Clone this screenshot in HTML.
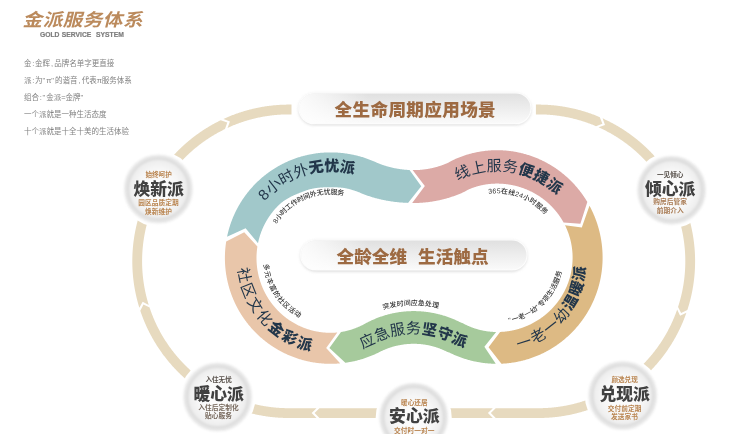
<!DOCTYPE html>
<html lang="zh"><head><meta charset="utf-8"><title>金派服务体系 GOLD SERVICE SYSTEM</title>
<style>
html,body{margin:0;padding:0;background:#fff}
body{width:740px;height:434px;overflow:hidden;position:relative;font-family:"Liberation Sans",sans-serif}
svg{position:absolute;left:0;top:0;display:block;filter:blur(.32px)}
svg text{font-family:"Liberation Sans","Noto Sans CJK SC",sans-serif}
.en{position:absolute;left:39.5px;top:30.3px;font:bold 7.3px/9px "Liberation Sans",sans-serif;letter-spacing:0;word-spacing:.5px;color:#7d7d7d;white-space:pre;margin:0;transform-origin:0 0;transform:scaleX(.925);-webkit-text-stroke:.22px #7d7d7d}
.sr{position:absolute;left:0;top:0;width:1px;height:1px;overflow:hidden;clip:rect(0 0 0 0);clip-path:inset(50%);white-space:nowrap;font-size:1px;color:transparent}
</style></head><body>
<svg width="740" height="434" viewBox="0 0 740 434" role="img" aria-label="金派服务体系">
<defs>
<linearGradient id="pg" x1="0" x2="1" y1="0" y2="0"><stop offset="0" stop-color="#fff" stop-opacity=".85"/><stop offset=".1" stop-color="#fff" stop-opacity=".6"/><stop offset=".3" stop-color="#fff" stop-opacity="0"/></linearGradient>
<linearGradient id="pv" x1="0" x2="0" y1="0" y2="1"><stop offset="0" stop-color="#e0e0e0"/><stop offset=".45" stop-color="#ececec"/><stop offset="1" stop-color="#fafafa"/></linearGradient>
<radialGradient id="ng" cx=".5" cy=".5" r=".5"><stop offset="0" stop-color="#fdfdfd"/><stop offset=".6" stop-color="#f8f8f8"/><stop offset="1" stop-color="#ececec"/></radialGradient>
<linearGradient id="tg" gradientUnits="userSpaceOnUse" x1="0" y1="9" x2="0" y2="28"><stop offset="0" stop-color="#bb8a5c"/><stop offset="1" stop-color="#9a6037"/></linearGradient>
<filter id="sh" x="-5%" y="-30%" width="110%" height="170%"><feGaussianBlur stdDeviation="1.6"/></filter>
<filter id="nb" x="-10%" y="-10%" width="120%" height="120%"><feGaussianBlur stdDeviation=".8"/></filter>
<filter id="nb2" x="-15%" y="-15%" width="130%" height="130%"><feGaussianBlur stdDeviation="1.1"/></filter>
</defs>
<path fill="#e7dabf" d="M151.94 185.35L152.24 184.81L152.54 184.26L152.85 183.72L153.16 183.19L153.47 182.65L153.78 182.11L154.1 181.58L154.41 181.04L154.73 180.51L155.05 179.98L155.38 179.45L155.7 178.92L156.03 178.4L156.36 177.87L156.69 177.34L157.02 176.82L157.36 176.3L157.7 175.78L158.03 175.26L158.38 174.74L158.72 174.22L159.07 173.71L159.41 173.2L159.76 172.68L160.12 172.17L160.47 171.66L160.83 171.15L161.18 170.65L161.54 170.14L161.91 169.64L162.27 169.13L162.64 168.63L163 168.13L163.37 167.64L163.75 167.14L164.12 166.64L164.5 166.15L164.87 165.66L165.25 165.17L165.63 164.68L166.02 164.19L166.4 163.7L166.79 163.22L167.18 162.74L167.57 162.25L167.97 161.77L168.36 161.3L168.76 160.82L169.16 160.34L169.56 159.87L169.96 159.4L170.36 158.93L170.77 158.46L171.18 157.99L171.59 157.52L172 157.06L172.41 156.6L172.83 156.14L173.25 155.68L173.67 155.22L174.09 154.76L174.51 154.31L174.94 153.86L175.36 153.41L175.79 152.96L176.22 152.51L176.65 152.06L177.08 151.62L177.52 151.18L177.96 150.74L178.4 150.3L178.84 149.86L179.28 149.42L179.72 148.99L180.17 148.56L180.62 148.13L181.06 147.7L181.52 147.27L181.97 146.85L182.42 146.43L182.88 146.01L183.33 145.59L183.79 145.17L184.25 144.75L184.72 144.34L185.18 143.93L185.65 143.52L186.11 143.11L186.58 142.7L187.05 142.3L187.53 141.89L188 141.49L188.47 141.09L188.95 140.7L189.43 140.3L189.91 139.91L190.39 139.52L190.87 139.13L191.36 138.74L191.84 138.35L192.33 137.97L192.82 137.59L193.31 137.21L193.8 136.83L194.3 136.45L194.79 136.08L195.29 135.71L195.79 135.34L196.29 134.97L196.79 134.6L197.29 134.24L197.8 133.88L198.3 133.52L198.81 133.16L199.32 132.8L199.82 132.45L200.34 132.1L200.85 131.75L201.36 131.4L201.88 131.05L202.39 130.71L202.91 130.37L203.43 130.03L203.95 129.69L204.47 129.35L205 129.02L205.52 128.69L206.05 128.36L206.57 128.03L207.1 127.71L207.63 127.38L208.16 127.06L208.7 126.74L209.23 126.42L209.76 126.11L210.3 125.8L210.84 125.49L211.38 125.18L211.91 124.87L212.46 124.57L213 124.27L213.54 123.97L214.09 123.67L214.63 123.37L215.18 123.08L215.73 122.79L216.28 122.5L216.83 122.21L217.38 121.93L217.93 121.64L218.48 121.36L219.04 121.09L219.59 120.81L220.15 120.54L220.71 120.26L227.29 122.61L224.98 129.08L224.46 129.34L223.93 129.6L223.41 129.85L222.89 130.12L222.37 130.38L221.86 130.64L221.34 130.91L220.82 131.18L220.31 131.45L219.79 131.72L219.28 132L218.77 132.28L218.26 132.55L217.75 132.84L217.24 133.12L216.74 133.4L216.23 133.69L215.73 133.98L215.22 134.27L214.72 134.56L214.22 134.86L213.72 135.16L213.22 135.46L212.72 135.76L212.22 136.06L211.73 136.36L211.23 136.67L210.74 136.98L210.25 137.29L209.76 137.6L209.27 137.92L208.78 138.24L208.3 138.55L207.81 138.88L207.33 139.2L206.84 139.52L206.36 139.85L205.88 140.18L205.4 140.51L204.92 140.84L204.45 141.17L203.97 141.51L203.5 141.85L203.03 142.19L202.56 142.53L202.09 142.87L201.62 143.22L201.15 143.56L200.69 143.91L200.22 144.26L199.76 144.61L199.3 144.97L198.84 145.33L198.38 145.68L197.92 146.04L197.47 146.4L197.01 146.77L196.56 147.13L196.11 147.5L195.66 147.87L195.21 148.24L194.76 148.61L194.32 148.99L193.87 149.36L193.43 149.74L192.99 150.12L192.55 150.5L192.11 150.88L191.67 151.27L191.24 151.65L190.81 152.04L190.37 152.43L189.94 152.82L189.51 153.22L189.09 153.61L188.66 154.01L188.24 154.41L187.81 154.81L187.39 155.21L186.97 155.61L186.56 156.01L186.14 156.42L185.73 156.83L185.31 157.24L184.9 157.65L184.49 158.06L184.08 158.48L183.68 158.9L183.27 159.31L182.87 159.73L182.47 160.15L182.07 160.58L181.67 161L181.27 161.43L180.88 161.85L180.49 162.28L180.1 162.71L179.71 163.15L179.32 163.58L178.93 164.01L178.55 164.45L178.16 164.89L177.78 165.33L177.4 165.77L177.03 166.21L176.65 166.66L176.28 167.1L175.91 167.55L175.53 168L175.17 168.45L174.8 168.9L174.43 169.35L174.07 169.81L173.71 170.26L173.35 170.72L172.99 171.18L172.64 171.64L172.28 172.1L171.93 172.56L171.58 173.03L171.23 173.49L170.88 173.96L170.54 174.43L170.2 174.9L169.85 175.37L169.52 175.84L169.18 176.32L168.84 176.79L168.51 177.27L168.18 177.75L167.85 178.23L167.52 178.71L167.19 179.19L166.87 179.67L166.55 180.15L166.23 180.64L165.91 181.13L165.59 181.62L165.28 182.1L164.96 182.6L164.65 183.09L164.34 183.58L164.04 184.07L163.73 184.57L163.43 185.07L163.13 185.56L162.83 186.06L162.53 186.56L162.24 187.07L161.94 187.57L161.65 188.07L161.36 188.58L161.08 189.08L160.79 189.59L160.51 190.1ZM223.42 118.99L223.98 118.73L224.55 118.47L225.11 118.21L225.68 117.96L226.25 117.71L226.82 117.46L227.39 117.22L227.96 116.98L228.54 116.73L229.11 116.5L229.69 116.26L230.26 116.03L230.84 115.79L231.42 115.56L232 115.34L232.58 115.11L233.16 114.89L233.74 114.67L234.32 114.45L234.9 114.23L235.49 114.02L236.07 113.81L236.66 113.6L237.24 113.39L237.83 113.19L238.42 112.99L239.01 112.79L239.6 112.59L240.19 112.4L240.78 112.2L241.37 112.01L241.96 111.83L242.56 111.64L243.15 111.46L243.75 111.28L244.34 111.1L244.94 110.92L245.53 110.75L246.13 110.58L246.73 110.41L247.33 110.24L247.93 110.08L248.53 109.92L249.13 109.76L249.73 109.6L250.33 109.45L250.94 109.29L251.54 109.14L252.14 109L252.75 108.85L253.35 108.71L253.96 108.57L254.57 108.43L255.17 108.29L255.78 108.16L256.39 108.03L257 107.9L257.6 107.78L258.21 107.65L258.82 107.53L259.43 107.41L260.04 107.3L260.66 107.18L261.27 107.07L261.88 106.96L262.49 106.86L263.11 106.75L263.72 106.65L264.33 106.55L264.95 106.46L265.56 106.36L266.18 106.27L266.79 106.18L267.41 106.09L268.02 106.01L268.64 105.93L269.26 105.85L269.87 105.77L270.49 105.7L271.11 105.63L271.73 105.56L272.34 105.49L272.96 105.42L273.58 105.36L274.2 105.3L274.82 105.24L275.44 105.19L276.06 105.14L276.68 105.09L277.3 105.04L277.92 104.99L278.54 104.95L279.16 104.91L279.78 104.87L280.4 104.84L281.02 104.8L281.64 104.77L282.26 104.75L282.88 104.72L283.5 104.7L284.13 104.68L284.75 104.66L285.37 104.64L285.99 104.63L286.61 104.62L287.23 104.61L287.85 104.6L288.47 104.6L289.09 104.6L289.7 104.6L290.3 104.6L290.9 104.6L291.5 104.6L291.5 114.4L290.9 114.4L290.3 114.4L289.7 114.4L289.1 114.4L288.51 114.4L287.93 114.4L287.34 114.41L286.76 114.42L286.18 114.43L285.6 114.44L285.01 114.45L284.43 114.47L283.85 114.49L283.27 114.51L282.68 114.54L282.1 114.56L281.52 114.59L280.94 114.62L280.35 114.65L279.77 114.69L279.19 114.73L278.61 114.77L278.03 114.81L277.45 114.86L276.87 114.9L276.29 114.95L275.71 115L275.12 115.06L274.54 115.11L273.96 115.17L273.39 115.23L272.81 115.3L272.23 115.36L271.65 115.43L271.07 115.5L270.49 115.57L269.91 115.65L269.33 115.72L268.76 115.8L268.18 115.88L267.6 115.97L267.03 116.05L266.45 116.14L265.88 116.23L265.3 116.32L264.72 116.42L264.15 116.52L263.58 116.62L263 116.72L262.43 116.82L261.86 116.93L261.28 117.04L260.71 117.15L260.14 117.26L259.57 117.38L259 117.5L258.43 117.62L257.86 117.74L257.29 117.86L256.72 117.99L256.15 118.12L255.58 118.25L255.02 118.39L254.45 118.52L253.88 118.66L253.32 118.8L252.75 118.94L252.19 119.09L251.62 119.23L251.06 119.38L250.5 119.54L249.94 119.69L249.37 119.85L248.81 120L248.25 120.16L247.69 120.33L247.13 120.49L246.58 120.66L246.02 120.83L245.46 121L244.9 121.17L244.35 121.35L243.79 121.53L243.24 121.71L242.69 121.89L242.13 122.08L241.58 122.26L241.03 122.45L240.48 122.64L239.93 122.84L239.38 123.03L238.83 123.23L238.29 123.43L237.74 123.63L237.19 123.84L236.65 124.05L236.1 124.25L235.56 124.46L235.02 124.68L234.48 124.89L233.94 125.11L233.4 125.33L232.86 125.55L232.32 125.78L231.78 126L231.25 126.23L230.71 126.46L230.18 126.69L229.64 126.93L229.11 127.16L228.58 127.4L228.05 127.64L227.52 127.89L229.95 121.46ZM535.9 104.6L536.5 104.6L537.1 104.6L537.7 104.6L538.31 104.6L538.92 104.6L539.53 104.6L540.15 104.61L540.77 104.62L541.39 104.63L542.01 104.64L542.63 104.66L543.25 104.68L543.87 104.7L544.49 104.72L545.11 104.74L545.73 104.77L546.35 104.8L546.97 104.83L547.59 104.87L548.21 104.91L548.83 104.95L549.44 104.99L550.06 105.03L550.68 105.08L551.3 105.13L551.92 105.18L552.53 105.24L553.15 105.3L553.77 105.36L554.39 105.42L555 105.48L555.62 105.55L556.23 105.62L556.85 105.69L557.47 105.76L558.08 105.84L558.7 105.92L559.31 106L559.92 106.09L560.54 106.17L561.15 106.26L561.77 106.35L562.38 106.45L562.99 106.54L563.6 106.64L564.21 106.74L564.83 106.84L565.44 106.95L566.05 107.06L566.66 107.17L567.27 107.28L567.88 107.4L568.48 107.52L569.09 107.64L569.7 107.76L570.31 107.88L570.91 108.01L571.52 108.14L572.13 108.27L572.73 108.41L573.34 108.54L573.94 108.68L574.54 108.83L575.15 108.97L575.75 109.12L576.35 109.26L576.95 109.42L577.55 109.57L578.15 109.73L578.75 109.88L579.35 110.05L579.95 110.21L580.55 110.37L581.14 110.54L581.74 110.71L582.33 110.88L582.93 111.06L583.52 111.24L584.12 111.42L584.71 111.6L585.3 111.78L585.89 111.97L586.48 112.16L587.07 112.35L587.66 112.54L588.25 112.74L588.84 112.94L589.42 113.14L590.01 113.34L590.59 113.55L591.18 113.76L591.76 113.97L592.34 114.18L592.92 114.39L593.51 114.61L594.09 114.83L594.66 115.05L595.24 115.27L595.82 115.5L596.4 115.73L596.97 115.96L597.55 116.19L598.12 116.43L598.69 116.66L599.26 116.9L599.83 117.15L602.39 123.65L595.99 126.16L595.46 125.93L594.92 125.71L594.38 125.49L593.85 125.27L593.31 125.05L592.77 124.83L592.23 124.62L591.69 124.41L591.15 124.2L590.6 123.99L590.06 123.78L589.51 123.58L588.97 123.38L588.42 123.18L587.88 122.98L587.33 122.79L586.78 122.6L586.23 122.41L585.68 122.22L585.13 122.03L584.58 121.85L584.03 121.67L583.47 121.49L582.92 121.31L582.37 121.13L581.81 120.96L581.26 120.79L580.7 120.62L580.14 120.46L579.59 120.29L579.03 120.13L578.47 119.97L577.91 119.81L577.35 119.66L576.79 119.5L576.23 119.35L575.67 119.21L575.1 119.06L574.54 118.92L573.98 118.77L573.41 118.63L572.85 118.5L572.28 118.36L571.72 118.23L571.15 118.1L570.58 117.97L570.02 117.84L569.45 117.72L568.88 117.6L568.31 117.48L567.74 117.36L567.17 117.25L566.6 117.13L566.03 117.02L565.46 116.91L564.89 116.81L564.32 116.7L563.75 116.6L563.17 116.5L562.6 116.41L562.03 116.31L561.45 116.22L560.88 116.13L560.3 116.04L559.73 115.96L559.15 115.87L558.58 115.79L558 115.71L557.43 115.64L556.85 115.56L556.27 115.49L555.7 115.42L555.12 115.35L554.54 115.29L553.96 115.23L553.39 115.17L552.81 115.11L552.23 115.05L551.65 115L551.07 114.95L550.49 114.9L549.91 114.85L549.33 114.81L548.75 114.77L548.17 114.73L547.59 114.69L547.01 114.65L546.43 114.62L545.85 114.59L545.27 114.56L544.69 114.53L544.11 114.51L543.53 114.49L542.95 114.47L542.37 114.45L541.79 114.44L541.21 114.43L540.63 114.42L540.04 114.41L539.46 114.4L538.88 114.4L538.29 114.4L537.7 114.4L537.1 114.4L536.5 114.4L535.9 114.4ZM602.58 118.34L603.14 118.6L603.71 118.86L604.28 119.12L604.84 119.38L605.4 119.65L605.97 119.91L606.53 120.18L607.09 120.46L607.65 120.73L608.2 121.01L608.76 121.28L609.32 121.56L609.87 121.85L610.42 122.13L610.97 122.42L611.53 122.71L612.08 123L612.62 123.29L613.17 123.59L613.72 123.89L614.26 124.19L614.81 124.49L615.35 124.8L615.89 125.1L616.43 125.41L616.97 125.72L617.51 126.04L618.05 126.35L618.58 126.67L619.12 126.99L619.65 127.31L620.18 127.63L620.71 127.96L621.24 128.29L621.77 128.62L622.29 128.95L622.82 129.28L623.34 129.62L623.86 129.96L624.38 130.3L624.9 130.64L625.42 130.99L625.94 131.33L626.45 131.68L626.97 132.03L627.48 132.38L627.99 132.74L628.5 133.1L629.01 133.45L629.52 133.82L630.02 134.18L630.53 134.54L631.03 134.91L631.53 135.28L632.03 135.65L632.53 136.02L633.03 136.4L633.52 136.77L634.02 137.15L634.51 137.53L635 137.92L635.49 138.3L635.98 138.69L636.46 139.08L636.95 139.47L637.43 139.86L637.91 140.25L638.39 140.65L638.87 141.05L639.35 141.45L639.82 141.85L640.3 142.25L640.77 142.66L641.24 143.07L641.71 143.48L642.17 143.89L642.64 144.3L643.1 144.71L643.57 145.13L644.03 145.55L644.48 145.97L644.94 146.39L645.4 146.82L645.85 147.24L646.3 147.67L646.75 148.1L647.2 148.53L647.65 148.96L648.1 149.4L648.54 149.84L648.98 150.27L649.42 150.71L649.86 151.16L650.3 151.6L650.73 152.04L651.16 152.49L651.59 152.94L652.02 153.39L652.45 153.84L652.88 154.3L653.3 154.75L653.72 155.21L654.14 155.67L654.56 156.13L654.98 156.59L655.39 157.05L655.81 157.52L656.22 157.99L656.63 158.46L657.04 158.93L657.44 159.4L657.85 159.87L658.25 160.35L658.65 160.82L659.05 161.3L659.44 161.78L659.84 162.26L660.23 162.75L660.62 163.23L661.01 163.72L661.39 164.21L661.78 164.69L662.16 165.19L662.54 165.68L662.92 166.17L663.3 166.67L663.67 167.16L664.05 167.66L664.42 168.16L664.79 168.66L665.15 169.17L665.52 169.67L665.88 170.18L666.24 170.68L666.6 171.19L666.96 171.7L667.31 172.21L667.66 172.72L668.02 173.24L668.36 173.75L668.71 174.27L669.06 174.79L669.4 175.31L669.74 175.83L670.08 176.35L670.41 176.88L670.75 177.4L671.08 177.93L671.41 178.45L671.74 178.98L672.06 179.51L672.39 180.05L672.71 180.58L673.03 181.11L673.35 181.65L673.66 182.18L673.97 182.72L674.29 183.26L674.59 183.8L674.9 184.34L675.21 184.89L675.51 185.43L675.81 185.97L676.11 186.52L676.4 187.07L676.7 187.62L668.05 192.23L667.77 191.71L667.49 191.2L667.21 190.69L666.93 190.17L666.65 189.66L666.36 189.16L666.08 188.65L665.79 188.14L665.5 187.64L665.2 187.13L664.91 186.63L664.61 186.13L664.31 185.63L664.01 185.13L663.7 184.63L663.4 184.13L663.09 183.64L662.78 183.14L662.47 182.65L662.16 182.16L661.84 181.66L661.52 181.18L661.21 180.69L660.88 180.2L660.56 179.71L660.24 179.23L659.91 178.75L659.58 178.26L659.25 177.78L658.92 177.3L658.58 176.83L658.25 176.35L657.91 175.87L657.57 175.4L657.23 174.93L656.88 174.46L656.54 173.99L656.19 173.52L655.84 173.05L655.49 172.59L655.13 172.12L654.78 171.66L654.42 171.2L654.06 170.74L653.7 170.28L653.34 169.82L652.98 169.36L652.61 168.91L652.24 168.46L651.87 168.01L651.5 167.56L651.13 167.11L650.75 166.66L650.38 166.22L650 165.77L649.62 165.33L649.23 164.89L648.85 164.45L648.47 164.01L648.08 163.57L647.69 163.14L647.3 162.71L646.91 162.27L646.51 161.84L646.12 161.42L645.72 160.99L645.32 160.56L644.92 160.14L644.52 159.72L644.11 159.3L643.71 158.88L643.3 158.46L642.89 158.04L642.48 157.63L642.06 157.22L641.65 156.81L641.23 156.4L640.82 155.99L640.4 155.58L639.98 155.18L639.56 154.78L639.13 154.38L638.71 153.98L638.28 153.58L637.85 153.18L637.42 152.79L636.99 152.4L636.56 152.01L636.12 151.62L635.68 151.23L635.25 150.84L634.81 150.46L634.37 150.08L633.92 149.7L633.48 149.32L633.03 148.94L632.59 148.57L632.14 148.19L631.69 147.82L631.24 147.45L630.78 147.09L630.33 146.72L629.87 146.36L629.42 145.99L628.96 145.63L628.5 145.27L628.04 144.92L627.57 144.56L627.11 144.21L626.64 143.86L626.18 143.51L625.71 143.16L625.24 142.81L624.77 142.47L624.29 142.13L623.82 141.79L623.34 141.45L622.87 141.11L622.39 140.78L621.91 140.45L621.43 140.12L620.95 139.79L620.46 139.46L619.98 139.14L619.49 138.81L619.01 138.49L618.52 138.17L618.03 137.85L617.54 137.54L617.05 137.23L616.55 136.91L616.06 136.6L615.56 136.3L615.06 135.99L614.57 135.69L614.07 135.39L613.57 135.09L613.06 134.79L612.56 134.49L612.06 134.2L611.55 133.91L611.05 133.62L610.54 133.33L610.03 133.05L609.52 132.76L609.01 132.48L608.5 132.2L607.98 131.93L607.47 131.65L606.95 131.38L606.44 131.11L605.92 130.84L605.4 130.57L604.88 130.3L604.36 130.04L603.84 129.78L603.31 129.52L602.79 129.26L602.27 129.01L601.74 128.76L601.21 128.51L600.68 128.26L600.16 128.01L599.63 127.77L599.1 127.53L598.56 127.29L605.01 124.89ZM676.7 187.62L676.99 188.17L677.28 188.72L677.56 189.27L677.85 189.82L678.13 190.37L678.41 190.93L678.69 191.48L678.96 192.04L679.24 192.6L679.51 193.16L679.78 193.72L680.04 194.28L680.31 194.84L680.57 195.41L680.83 195.97L681.09 196.53L681.35 197.1L681.6 197.67L681.85 198.24L682.1 198.81L682.35 199.38L682.59 199.95L682.83 200.52L683.07 201.09L683.31 201.67L683.55 202.24L683.78 202.82L684.01 203.4L684.24 203.97L684.46 204.55L684.69 205.13L684.91 205.71L685.13 206.29L685.35 206.88L685.56 207.46L685.77 208.04L685.98 208.63L686.19 209.21L686.4 209.8L686.6 210.39L686.8 210.98L687 211.57L687.19 212.15L687.39 212.75L687.58 213.34L687.77 213.93L687.95 214.52L688.14 215.11L688.32 215.71L688.5 216.3L688.68 216.9L688.85 217.5L689.03 218.09L689.2 218.69L689.36 219.29L689.53 219.89L689.69 220.49L689.85 221.09L690.01 221.69L690.17 222.29L690.32 222.89L690.47 223.5L690.62 224.1L690.77 224.7L690.91 225.31L691.05 225.91L691.19 226.52L691.33 227.12L691.46 227.73L691.59 228.34L691.72 228.95L691.85 229.55L691.98 230.16L692.1 230.77L692.22 231.38L692.33 231.99L692.45 232.6L692.56 233.21L692.67 233.83L692.78 234.44L692.89 235.05L692.99 235.66L693.09 236.28L693.19 236.89L693.28 237.5L693.38 238.12L693.47 238.73L693.55 239.35L693.64 239.96L693.72 240.58L693.8 241.2L693.88 241.81L693.96 242.43L694.03 243.05L694.1 243.66L694.17 244.28L694.24 244.9L694.3 245.52L694.36 246.13L694.42 246.75L694.48 247.37L694.53 247.99L694.59 248.61L694.63 249.23L694.68 249.85L694.73 250.47L694.77 251.09L694.81 251.71L694.84 252.33L694.88 252.95L694.91 253.57L694.94 254.19L694.97 254.81L694.99 255.43L695.01 256.05L695.03 256.68L695.05 257.3L695.06 257.92L695.08 258.54L695.09 259.16L695.09 259.78L695.1 260.4L695.1 261.03L695.1 261.65L695.1 262.27L695.09 262.89L695.08 263.51L695.07 264.13L695.06 264.75L695.05 265.37L695.03 266L695.01 266.62L694.99 267.24L694.96 267.86L694.94 268.48L694.91 269.1L694.87 269.72L694.84 270.34L694.8 270.96L694.76 271.58L694.72 272.2L694.68 272.82L694.63 273.44L694.58 274.06L694.53 274.68L694.47 275.3L694.42 275.92L694.36 276.54L694.3 277.16L694.23 277.77L694.16 278.39L694.1 279.01L694.02 279.63L693.95 280.24L693.87 280.86L693.8 281.48L693.71 282.09L693.63 282.71L693.54 283.32L693.46 283.94L693.36 284.55L693.27 285.17L693.18 285.78L693.08 286.4L692.98 287.01L692.87 287.62L692.77 288.23L692.66 288.85L692.55 289.46L692.44 290.07L692.32 290.68L692.2 291.29L692.08 291.9L691.96 292.51L691.84 293.12L691.71 293.73L691.58 294.33L691.45 294.94L691.31 295.55L691.17 296.15L691.04 296.76L690.89 297.36L690.75 297.97L690.6 298.57L690.45 299.18L690.3 299.78L690.15 300.38L689.99 300.98L689.83 301.58L689.67 302.18L689.51 302.78L689.34 303.38L689.18 303.98L689.01 304.58L688.83 305.17L688.66 305.77L688.48 306.37L688.3 306.96L688.12 307.55L687.93 308.15L687.75 308.74L687.56 309.33L687.37 309.92L681.11 313.04L678.05 306.88L678.23 306.33L678.41 305.77L678.58 305.22L678.75 304.66L678.93 304.1L679.09 303.55L679.26 302.99L679.42 302.43L679.59 301.87L679.75 301.31L679.9 300.75L680.06 300.19L680.21 299.63L680.36 299.06L680.51 298.5L680.66 297.94L680.8 297.37L680.94 296.81L681.08 296.24L681.22 295.67L681.36 295.11L681.49 294.54L681.62 293.97L681.75 293.4L681.87 292.84L682 292.27L682.12 291.7L682.24 291.13L682.36 290.56L682.47 289.99L682.58 289.41L682.69 288.84L682.8 288.27L682.91 287.7L683.01 287.12L683.11 286.55L683.21 285.98L683.31 285.4L683.4 284.83L683.5 284.25L683.59 283.68L683.67 283.1L683.76 282.52L683.84 281.95L683.92 281.37L684 280.79L684.08 280.21L684.15 279.64L684.22 279.06L684.29 278.48L684.36 277.9L684.42 277.32L684.49 276.74L684.55 276.16L684.6 275.58L684.66 275L684.71 274.42L684.76 273.84L684.81 273.26L684.86 272.68L684.9 272.1L684.94 271.52L684.98 270.94L685.02 270.36L685.06 269.78L685.09 269.19L685.12 268.61L685.15 268.03L685.17 267.45L685.19 266.87L685.22 266.28L685.23 265.7L685.25 265.12L685.26 264.54L685.28 263.96L685.29 263.37L685.29 262.79L685.3 262.21L685.3 261.63L685.3 261.04L685.3 260.46L685.29 259.88L685.29 259.29L685.28 258.71L685.27 258.13L685.25 257.55L685.24 256.97L685.22 256.38L685.2 255.8L685.17 255.22L685.15 254.64L685.12 254.05L685.09 253.47L685.06 252.89L685.02 252.31L684.99 251.73L684.95 251.15L684.91 250.57L684.86 249.99L684.82 249.4L684.77 248.82L684.72 248.24L684.67 247.66L684.61 247.08L684.55 246.5L684.49 245.92L684.43 245.34L684.37 244.77L684.3 244.19L684.23 243.61L684.16 243.03L684.09 242.45L684.01 241.88L683.93 241.3L683.85 240.72L683.77 240.14L683.68 239.57L683.6 238.99L683.51 238.42L683.41 237.84L683.32 237.27L683.22 236.69L683.13 236.12L683.02 235.54L682.92 234.97L682.82 234.4L682.71 233.82L682.6 233.25L682.49 232.68L682.37 232.11L682.25 231.54L682.13 230.97L682.01 230.4L681.89 229.83L681.76 229.26L681.64 228.69L681.5 228.13L681.37 227.56L681.24 226.99L681.1 226.43L680.96 225.86L680.82 225.29L680.68 224.73L680.53 224.17L680.38 223.6L680.23 223.04L680.08 222.48L679.92 221.92L679.76 221.36L679.61 220.79L679.44 220.24L679.28 219.68L679.11 219.12L678.95 218.56L678.77 218L678.6 217.45L678.43 216.89L678.25 216.34L678.07 215.78L677.89 215.23L677.7 214.68L677.52 214.12L677.33 213.57L677.14 213.02L676.95 212.47L676.75 211.92L676.56 211.37L676.36 210.83L676.16 210.28L675.95 209.73L675.75 209.19L675.54 208.65L675.33 208.1L675.12 207.56L674.9 207.02L674.69 206.48L674.47 205.94L674.25 205.4L674.02 204.86L673.8 204.32L673.57 203.78L673.34 203.25L673.11 202.71L672.88 202.18L672.64 201.65L672.41 201.12L672.17 200.59L671.92 200.06L671.68 199.53L671.43 199L671.19 198.47L670.94 197.94L670.68 197.42L670.43 196.9L670.17 196.37L669.91 195.85L669.65 195.33L669.39 194.81L669.13 194.29L668.86 193.77L668.59 193.26L668.32 192.74L668.05 192.23ZM686.41 312.76L686.2 313.35L686 313.94L685.78 314.52L685.57 315.11L685.36 315.69L685.14 316.28L684.92 316.86L684.7 317.44L684.47 318.02L684.25 318.6L684.02 319.18L683.79 319.76L683.55 320.34L683.32 320.91L683.08 321.49L682.84 322.06L682.6 322.64L682.35 323.21L682.1 323.78L681.85 324.35L681.6 324.92L681.35 325.49L681.09 326.06L680.83 326.63L680.57 327.19L680.31 327.76L680.04 328.32L679.78 328.88L679.51 329.44L679.24 330L678.96 330.56L678.68 331.12L678.41 331.68L678.13 332.23L677.84 332.79L677.56 333.34L677.27 333.9L676.98 334.45L676.69 335L676.39 335.55L676.1 336.09L675.8 336.64L675.5 337.19L675.2 337.73L674.89 338.27L674.58 338.82L674.27 339.36L673.96 339.9L673.65 340.43L673.33 340.97L673.02 341.51L672.7 342.04L672.37 342.58L672.05 343.11L671.72 343.64L671.4 344.17L671.07 344.7L670.73 345.22L670.4 345.75L670.06 346.27L669.72 346.79L669.38 347.32L669.04 347.84L668.69 348.35L668.35 348.87L668 349.39L667.65 349.9L667.29 350.41L666.94 350.93L666.58 351.44L666.22 351.95L665.86 352.45L665.5 352.96L665.13 353.46L664.76 353.97L664.39 354.47L664.02 354.97L663.65 355.47L663.27 355.96L662.9 356.46L662.52 356.95L662.14 357.45L661.75 357.94L661.37 358.43L660.98 358.91L660.59 359.4L660.2 359.89L659.81 360.37L659.41 360.85L659.02 361.33L658.62 361.81L658.22 362.29L657.82 362.76L657.41 363.24L657.01 363.71L656.6 364.18L656.19 364.65L655.78 365.12L655.36 365.58L654.95 366.05L654.53 366.51L654.11 366.97L653.69 367.43L653.27 367.89L652.84 368.34L652.42 368.8L651.99 369.25L651.56 369.7L651.13 370.15L650.69 370.6L650.26 371.04L649.82 371.48L649.38 371.93L648.94 372.37L648.5 372.81L648.05 373.24L647.61 373.68L647.16 374.11L646.71 374.54L646.26 374.97L645.81 375.4L645.35 375.83L644.9 376.25L644.44 376.67L643.98 377.09L643.52 377.51L643.06 377.93L642.59 378.34L642.12 378.76L641.66 379.17L641.19 379.58L640.72 379.99L640.24 380.39L639.77 380.79L639.29 381.2L638.82 381.6L638.34 382L637.86 382.39L637.37 382.79L636.89 383.18L636.41 383.57L635.92 383.96L635.43 384.34L634.94 384.73L634.45 385.11L633.96 385.49L633.46 385.87L632.97 386.25L632.47 386.62L631.97 387L631.47 387.37L630.97 387.74L630.46 388.1L629.96 388.47L629.45 388.83L628.95 389.19L628.44 389.55L627.93 389.91L627.41 390.26L626.9 390.62L626.39 390.97L625.87 391.32L625.35 391.66L624.83 392.01L624.31 392.35L623.79 392.69L623.27 393.03L622.74 393.36L622.22 393.7L621.69 394.03L616.48 385.73L616.98 385.42L617.47 385.1L617.96 384.79L618.45 384.47L618.94 384.15L619.43 383.83L619.91 383.51L620.4 383.18L620.88 382.86L621.37 382.53L621.85 382.2L622.33 381.86L622.81 381.53L623.28 381.19L623.76 380.86L624.23 380.52L624.71 380.17L625.18 379.83L625.65 379.48L626.12 379.14L626.59 378.79L627.05 378.43L627.52 378.08L627.98 377.73L628.44 377.37L628.9 377.01L629.36 376.65L629.82 376.29L630.28 375.92L630.73 375.56L631.18 375.19L631.64 374.82L632.09 374.45L632.54 374.07L632.98 373.7L633.43 373.32L633.87 372.94L634.32 372.56L634.76 372.18L635.2 371.8L635.64 371.41L636.07 371.02L636.51 370.63L636.94 370.24L637.38 369.85L637.81 369.46L638.24 369.06L638.66 368.66L639.09 368.26L639.51 367.86L639.94 367.46L640.36 367.06L640.78 366.65L641.2 366.24L641.61 365.83L642.03 365.42L642.44 365.01L642.85 364.59L643.26 364.18L643.67 363.76L644.08 363.34L644.48 362.92L644.88 362.5L645.28 362.07L645.68 361.65L646.08 361.22L646.48 360.79L646.87 360.36L647.27 359.93L647.66 359.5L648.05 359.06L648.43 358.62L648.82 358.19L649.21 357.75L649.59 357.3L649.97 356.86L650.35 356.42L650.72 355.97L651.1 355.52L651.47 355.08L651.85 354.63L652.22 354.17L652.58 353.72L652.95 353.27L653.32 352.81L653.68 352.35L654.04 351.89L654.4 351.43L654.76 350.97L655.11 350.51L655.46 350.04L655.82 349.58L656.17 349.11L656.51 348.64L656.86 348.17L657.21 347.7L657.55 347.23L657.89 346.75L658.23 346.28L658.56 345.8L658.9 345.32L659.23 344.84L659.56 344.36L659.89 343.88L660.22 343.39L660.55 342.91L660.87 342.42L661.19 341.94L661.51 341.45L661.83 340.96L662.14 340.47L662.46 339.97L662.77 339.48L663.08 338.98L663.39 338.49L663.69 337.99L664 337.49L664.3 336.99L664.6 336.49L664.9 335.99L665.19 335.49L665.49 334.98L665.78 334.48L666.07 333.97L666.35 333.46L666.64 332.95L666.92 332.44L667.21 331.93L667.49 331.42L667.76 330.9L668.04 330.39L668.31 329.87L668.58 329.36L668.85 328.84L669.12 328.32L669.39 327.8L669.65 327.28L669.91 326.75L670.17 326.23L670.43 325.71L670.68 325.18L670.94 324.66L671.19 324.13L671.44 323.6L671.68 323.07L671.93 322.54L672.17 322.01L672.41 321.48L672.65 320.94L672.88 320.41L673.12 319.87L673.35 319.34L673.58 318.8L673.81 318.26L674.03 317.72L674.25 317.19L674.48 316.64L674.69 316.1L674.91 315.56L675.13 315.02L675.34 314.47L675.55 313.93L675.76 313.38L675.96 312.84L676.17 312.29L676.37 311.74L676.57 311.19L676.76 310.64L676.96 310.09L677.15 309.54L680.1 315.75ZM621.69 394.03L621.16 394.36L620.63 394.69L620.1 395.01L619.57 395.34L619.04 395.66L618.51 395.98L617.97 396.29L617.43 396.61L616.9 396.92L616.36 397.23L615.82 397.54L615.28 397.85L614.73 398.15L614.19 398.45L613.65 398.75L613.1 399.05L612.55 399.34L612 399.64L611.45 399.93L610.9 400.22L610.35 400.5L609.8 400.79L609.24 401.07L608.69 401.35L608.13 401.63L607.57 401.91L607.01 402.18L606.45 402.45L605.89 402.72L605.33 402.99L604.77 403.25L604.21 403.51L603.64 403.77L603.07 404.03L602.51 404.29L601.94 404.54L601.37 404.79L600.8 405.04L600.23 405.29L599.66 405.53L599.08 405.77L598.51 406.01L597.93 406.25L597.36 406.49L596.78 406.72L596.2 406.95L595.63 407.18L595.05 407.4L594.47 407.63L593.88 407.85L593.3 408.07L592.72 408.28L592.14 408.5L591.55 408.71L590.97 408.92L590.38 409.13L589.79 409.33L589.2 409.54L588.61 409.74L588.03 409.93L587.43 410.13L586.84 410.32L586.25 410.51L585.66 410.7L585.07 410.89L584.47 411.07L583.88 411.26L583.28 411.44L582.68 411.61L582.09 411.79L581.49 411.96L580.89 412.13L580.29 412.3L579.69 412.46L579.09 412.62L578.49 412.78L577.89 412.94L577.29 413.1L576.68 413.25L576.08 413.4L575.48 413.55L574.87 413.7L574.27 413.84L573.66 413.98L573.05 414.12L572.45 414.26L571.84 414.39L571.23 414.52L570.62 414.65L570.02 414.78L569.41 414.9L568.8 415.02L568.19 415.14L567.57 415.26L566.96 415.37L566.35 415.49L565.74 415.6L565.13 415.7L564.51 415.81L563.9 415.91L563.29 416.01L562.67 416.11L562.06 416.2L561.44 416.3L560.83 416.39L560.21 416.47L559.59 416.56L558.98 416.64L558.36 416.72L557.74 416.8L557.13 416.88L556.51 416.95L555.89 417.02L555.27 417.09L554.65 417.15L554.03 417.22L553.42 417.28L552.8 417.34L552.18 417.39L551.56 417.45L550.94 417.5L550.32 417.55L549.7 417.59L549.08 417.64L548.46 417.68L547.83 417.72L547.21 417.75L546.59 417.79L545.97 417.82L545.35 417.85L544.73 417.87L544.11 417.9L543.49 417.92L542.86 417.94L542.24 417.95L541.62 417.97L541 417.98L540.38 417.99L539.75 417.99L539.13 418L538.52 418L537.91 418L537.3 418L536.7 418L536.1 418L535.49 418L534.89 418L534.29 418L533.69 418L533.08 418L532.48 418L531.88 418L531.28 418L530.67 418L530.07 418L529.47 418L528.87 418L528.26 418L527.66 418L527.06 418L526.46 418L525.85 418L525.25 418L524.65 418L524.04 418L523.44 418L522.84 418L522.24 418L521.63 418L521.03 418L520.43 418L519.83 418L519.22 418L518.62 418L518.02 418L517.42 418L516.81 418L516.21 418L515.61 418L515.01 418L514.4 418L513.8 418L513.2 418L512.6 418L511.99 418L511.39 418L510.79 418L510.19 418L509.58 418L508.98 418L508.38 418L507.78 418L507.17 418L506.57 418L505.97 418L505.36 418L504.76 418L504.16 418L503.56 418L502.95 418L502.35 418L501.75 418L501.15 418L500.54 418L499.94 418L499.34 418L498.74 418L498.13 418L497.53 418L496.93 418L496.33 418L495.72 418L490.82 413.1L495.72 408.2L496.33 408.2L496.93 408.2L497.53 408.2L498.13 408.2L498.74 408.2L499.34 408.2L499.94 408.2L500.54 408.2L501.15 408.2L501.75 408.2L502.35 408.2L502.95 408.2L503.56 408.2L504.16 408.2L504.76 408.2L505.36 408.2L505.97 408.2L506.57 408.2L507.17 408.2L507.78 408.2L508.38 408.2L508.98 408.2L509.58 408.2L510.19 408.2L510.79 408.2L511.39 408.2L511.99 408.2L512.6 408.2L513.2 408.2L513.8 408.2L514.4 408.2L515.01 408.2L515.61 408.2L516.21 408.2L516.81 408.2L517.42 408.2L518.02 408.2L518.62 408.2L519.22 408.2L519.83 408.2L520.43 408.2L521.03 408.2L521.63 408.2L522.24 408.2L522.84 408.2L523.44 408.2L524.04 408.2L524.65 408.2L525.25 408.2L525.85 408.2L526.46 408.2L527.06 408.2L527.66 408.2L528.26 408.2L528.87 408.2L529.47 408.2L530.07 408.2L530.67 408.2L531.28 408.2L531.88 408.2L532.48 408.2L533.08 408.2L533.69 408.2L534.29 408.2L534.89 408.2L535.49 408.2L536.1 408.2L536.7 408.2L537.3 408.2L537.9 408.2L538.5 408.2L539.09 408.2L539.67 408.19L540.25 408.19L540.84 408.18L541.42 408.17L542 408.16L542.58 408.14L543.17 408.12L543.75 408.1L544.33 408.08L544.92 408.06L545.5 408.03L546.08 408L546.66 407.97L547.24 407.93L547.83 407.9L548.41 407.86L548.99 407.82L549.57 407.77L550.15 407.73L550.73 407.68L551.32 407.63L551.9 407.58L552.48 407.52L553.06 407.47L553.64 407.41L554.22 407.35L554.8 407.28L555.38 407.22L555.96 407.15L556.53 407.08L557.11 407L557.69 406.93L558.27 406.85L558.85 406.77L559.42 406.69L560 406.6L560.58 406.52L561.15 406.43L561.73 406.34L562.3 406.24L562.88 406.15L563.45 406.05L564.03 405.95L564.6 405.84L565.18 405.74L565.75 405.63L566.32 405.52L566.89 405.41L567.47 405.3L568.04 405.18L568.61 405.06L569.18 404.94L569.75 404.82L570.32 404.69L570.89 404.56L571.46 404.43L572.02 404.3L572.59 404.17L573.16 404.03L573.72 403.89L574.29 403.75L574.86 403.6L575.42 403.46L575.98 403.31L576.55 403.16L577.11 403.01L577.67 402.85L578.23 402.7L578.79 402.54L579.36 402.38L579.91 402.21L580.47 402.05L581.03 401.88L581.59 401.71L582.15 401.53L582.7 401.36L583.26 401.18L583.81 401L584.37 400.82L584.92 400.64L585.47 400.45L586.03 400.27L586.58 400.07L587.13 399.88L587.68 399.69L588.23 399.49L588.77 399.29L589.32 399.09L589.87 398.89L590.41 398.68L590.96 398.48L591.5 398.27L592.05 398.05L592.59 397.84L593.13 397.62L593.67 397.41L594.21 397.18L594.75 396.96L595.29 396.74L595.83 396.51L596.36 396.28L596.9 396.05L597.43 395.82L597.97 395.58L598.5 395.34L599.03 395.1L599.56 394.86L600.09 394.62L600.62 394.37L601.15 394.13L601.67 393.87L602.2 393.62L602.72 393.37L603.25 393.11L603.77 392.85L604.29 392.59L604.81 392.33L605.33 392.07L605.85 391.8L606.37 391.53L606.88 391.26L607.4 390.99L607.91 390.71L608.43 390.43L608.94 390.16L609.45 389.87L609.96 389.59L610.47 389.31L610.98 389.02L611.48 388.73L611.99 388.44L612.49 388.15L612.99 387.85L613.5 387.55L614 387.25L614.5 386.95L614.99 386.65L615.49 386.35L615.99 386.04L616.48 385.73ZM492.82 418L492.22 418L491.62 418L491.01 418L490.41 418L489.8 418L489.2 418L488.6 418L487.99 418L487.39 418L486.78 418L486.18 418L485.58 418L484.97 418L484.37 418L483.76 418L483.16 418L482.56 418L481.95 418L481.35 418L480.74 418L480.14 418L479.54 418L478.93 418L478.33 418L477.72 418L477.12 418L476.52 418L475.91 418L475.31 418L474.7 418L474.1 418L473.5 418L472.89 418L472.29 418L471.68 418L471.08 418L470.48 418L469.87 418L469.27 418L468.66 418L468.06 418L467.46 418L466.85 418L466.25 418L465.64 418L465.04 418L464.44 418L463.83 418L463.23 418L462.62 418L462.02 418L461.42 418L460.81 418L460.21 418L459.6 418L459 418L458.4 418L457.79 418L457.19 418L456.58 418L455.98 418L455.38 418L454.77 418L454.17 418L453.56 418L452.96 418L452.36 418L451.75 418L451.15 418L450.54 418L449.94 418L449.34 418L448.73 418L448.13 418L447.52 418L446.92 418L446.32 418L445.71 418L445.11 418L444.5 418L443.9 418L443.3 418L442.69 418L442.09 418L441.48 418L440.88 418L440.28 418L439.67 418L439.07 418L438.46 418L437.86 418L437.26 418L436.65 418L436.05 418L435.44 418L434.84 418L434.24 418L433.63 418L433.03 418L432.42 418L431.82 418L431.22 418L430.61 418L430.01 418L429.4 418L428.8 418L428.2 418L427.59 418L426.99 418L426.38 418L425.78 418L425.18 418L424.57 418L423.97 418L423.36 418L422.76 418L422.16 418L421.55 418L420.95 418L420.34 418L419.74 418L419.14 418L418.53 418L417.93 418L417.32 418L416.72 418L416.12 418L415.51 418L414.91 418L414.3 418L413.7 418L413.7 408.2L414.3 408.2L414.91 408.2L415.51 408.2L416.12 408.2L416.72 408.2L417.32 408.2L417.93 408.2L418.53 408.2L419.14 408.2L419.74 408.2L420.34 408.2L420.95 408.2L421.55 408.2L422.16 408.2L422.76 408.2L423.36 408.2L423.97 408.2L424.57 408.2L425.18 408.2L425.78 408.2L426.38 408.2L426.99 408.2L427.59 408.2L428.2 408.2L428.8 408.2L429.4 408.2L430.01 408.2L430.61 408.2L431.22 408.2L431.82 408.2L432.42 408.2L433.03 408.2L433.63 408.2L434.24 408.2L434.84 408.2L435.44 408.2L436.05 408.2L436.65 408.2L437.26 408.2L437.86 408.2L438.46 408.2L439.07 408.2L439.67 408.2L440.28 408.2L440.88 408.2L441.48 408.2L442.09 408.2L442.69 408.2L443.3 408.2L443.9 408.2L444.5 408.2L445.11 408.2L445.71 408.2L446.32 408.2L446.92 408.2L447.52 408.2L448.13 408.2L448.73 408.2L449.34 408.2L449.94 408.2L450.54 408.2L451.15 408.2L451.75 408.2L452.36 408.2L452.96 408.2L453.56 408.2L454.17 408.2L454.77 408.2L455.38 408.2L455.98 408.2L456.58 408.2L457.19 408.2L457.79 408.2L458.4 408.2L459 408.2L459.6 408.2L460.21 408.2L460.81 408.2L461.42 408.2L462.02 408.2L462.62 408.2L463.23 408.2L463.83 408.2L464.44 408.2L465.04 408.2L465.64 408.2L466.25 408.2L466.85 408.2L467.46 408.2L468.06 408.2L468.66 408.2L469.27 408.2L469.87 408.2L470.48 408.2L471.08 408.2L471.68 408.2L472.29 408.2L472.89 408.2L473.5 408.2L474.1 408.2L474.7 408.2L475.31 408.2L475.91 408.2L476.52 408.2L477.12 408.2L477.72 408.2L478.33 408.2L478.93 408.2L479.54 408.2L480.14 408.2L480.74 408.2L481.35 408.2L481.95 408.2L482.56 408.2L483.16 408.2L483.76 408.2L484.37 408.2L484.97 408.2L485.58 408.2L486.18 408.2L486.78 408.2L487.39 408.2L487.99 408.2L488.6 408.2L489.2 408.2L489.8 408.2L490.41 408.2L491.01 408.2L491.62 408.2L492.22 408.2L492.82 408.2L487.92 413.1ZM413.7 418L413.1 418L412.5 418L411.9 418L411.3 418L410.7 418L410.1 418L409.5 418L408.9 418L408.3 418L407.7 418L407.1 418L406.5 418L405.9 418L405.29 418L404.69 418L404.09 418L403.49 418L402.89 418L402.29 418L401.69 418L401.09 418L400.49 418L399.89 418L399.29 418L398.69 418L398.09 418L397.49 418L396.89 418L396.29 418L395.69 418L395.09 418L394.49 418L393.89 418L393.29 418L392.69 418L392.09 418L391.49 418L390.89 418L390.29 418L389.68 418L389.08 418L388.48 418L387.88 418L387.28 418L386.68 418L386.08 418L385.48 418L384.88 418L384.28 418L383.68 418L383.08 418L382.48 418L381.88 418L381.28 418L380.68 418L380.08 418L379.48 418L378.88 418L378.28 418L377.68 418L377.08 418L376.48 418L375.88 418L375.28 418L374.68 418L374.08 418L373.47 418L372.87 418L372.27 418L371.67 418L371.07 418L370.47 418L369.87 418L369.27 418L368.67 418L368.07 418L367.47 418L366.87 418L366.27 418L365.67 418L365.07 418L364.47 418L363.87 418L363.27 418L362.67 418L362.07 418L361.47 418L360.87 418L360.27 418L359.67 418L359.07 418L358.47 418L357.87 418L357.26 418L356.66 418L356.06 418L355.46 418L354.86 418L354.26 418L353.66 418L353.06 418L352.46 418L351.86 418L351.26 418L350.66 418L350.06 418L349.46 418L348.86 418L348.26 418L347.66 418L347.06 418L346.46 418L345.86 418L345.26 418L344.66 418L344.06 418L343.46 418L342.86 418L342.26 418L341.65 418L341.05 418L340.45 418L339.85 418L339.25 418L338.65 418L338.05 418L337.45 418L336.85 418L336.25 418L335.65 418L335.05 418L334.45 418L333.85 418L333.25 418L332.65 418L332.05 418L331.45 418L330.85 418L330.25 418L329.65 418L329.05 418L328.45 418L327.85 418L327.25 418L326.65 418L326.05 418L325.44 418L324.84 418L324.24 418L323.64 418L323.04 418L322.44 418L321.84 418L321.24 418L320.64 418L320.04 418L319.44 418L314.54 413.1L319.44 408.2L320.04 408.2L320.64 408.2L321.24 408.2L321.84 408.2L322.44 408.2L323.04 408.2L323.64 408.2L324.24 408.2L324.84 408.2L325.44 408.2L326.05 408.2L326.65 408.2L327.25 408.2L327.85 408.2L328.45 408.2L329.05 408.2L329.65 408.2L330.25 408.2L330.85 408.2L331.45 408.2L332.05 408.2L332.65 408.2L333.25 408.2L333.85 408.2L334.45 408.2L335.05 408.2L335.65 408.2L336.25 408.2L336.85 408.2L337.45 408.2L338.05 408.2L338.65 408.2L339.25 408.2L339.85 408.2L340.45 408.2L341.05 408.2L341.65 408.2L342.26 408.2L342.86 408.2L343.46 408.2L344.06 408.2L344.66 408.2L345.26 408.2L345.86 408.2L346.46 408.2L347.06 408.2L347.66 408.2L348.26 408.2L348.86 408.2L349.46 408.2L350.06 408.2L350.66 408.2L351.26 408.2L351.86 408.2L352.46 408.2L353.06 408.2L353.66 408.2L354.26 408.2L354.86 408.2L355.46 408.2L356.06 408.2L356.66 408.2L357.26 408.2L357.87 408.2L358.47 408.2L359.07 408.2L359.67 408.2L360.27 408.2L360.87 408.2L361.47 408.2L362.07 408.2L362.67 408.2L363.27 408.2L363.87 408.2L364.47 408.2L365.07 408.2L365.67 408.2L366.27 408.2L366.87 408.2L367.47 408.2L368.07 408.2L368.67 408.2L369.27 408.2L369.87 408.2L370.47 408.2L371.07 408.2L371.67 408.2L372.27 408.2L372.87 408.2L373.47 408.2L374.08 408.2L374.68 408.2L375.28 408.2L375.88 408.2L376.48 408.2L377.08 408.2L377.68 408.2L378.28 408.2L378.88 408.2L379.48 408.2L380.08 408.2L380.68 408.2L381.28 408.2L381.88 408.2L382.48 408.2L383.08 408.2L383.68 408.2L384.28 408.2L384.88 408.2L385.48 408.2L386.08 408.2L386.68 408.2L387.28 408.2L387.88 408.2L388.48 408.2L389.08 408.2L389.68 408.2L390.29 408.2L390.89 408.2L391.49 408.2L392.09 408.2L392.69 408.2L393.29 408.2L393.89 408.2L394.49 408.2L395.09 408.2L395.69 408.2L396.29 408.2L396.89 408.2L397.49 408.2L398.09 408.2L398.69 408.2L399.29 408.2L399.89 408.2L400.49 408.2L401.09 408.2L401.69 408.2L402.29 408.2L402.89 408.2L403.49 408.2L404.09 408.2L404.69 408.2L405.29 408.2L405.9 408.2L406.5 408.2L407.1 408.2L407.7 408.2L408.3 408.2L408.9 408.2L409.5 408.2L410.1 408.2L410.7 408.2L411.3 408.2L411.9 408.2L412.5 408.2L413.1 408.2L413.7 408.2ZM316.54 418L315.94 418L315.34 418L314.74 418L314.13 418L313.53 418L312.93 418L312.33 418L311.73 418L311.12 418L310.52 418L309.92 418L309.32 418L308.72 418L308.12 418L307.51 418L306.91 418L306.31 418L305.71 418L305.11 418L304.51 418L303.9 418L303.3 418L302.7 418L302.1 418L301.5 418L300.89 418L300.29 418L299.69 418L299.09 418L298.49 418L297.89 418L297.28 418L296.68 418L296.08 418L295.48 418L294.88 418L294.27 418L293.67 418L293.07 418L292.47 418L291.87 418L291.27 418L290.66 418L290.06 418L289.46 418L288.85 418L288.23 418L287.61 417.99L286.99 417.99L286.37 417.98L285.75 417.97L285.13 417.95L284.51 417.94L283.88 417.92L283.26 417.89L282.64 417.87L282.02 417.84L281.4 417.82L280.78 417.78L280.16 417.75L279.54 417.71L278.92 417.68L278.3 417.63L277.68 417.59L277.06 417.54L276.44 417.5L275.82 417.44L275.2 417.39L274.59 417.34L273.97 417.28L273.35 417.22L272.73 417.15L272.11 417.09L271.5 417.02L270.88 416.95L270.26 416.88L269.65 416.8L269.03 416.72L268.41 416.64L267.8 416.56L267.18 416.47L266.57 416.39L265.95 416.3L265.34 416.2L264.72 416.11L264.11 416.01L263.5 415.91L262.88 415.81L262.27 415.7L261.66 415.6L261.05 415.49L260.44 415.37L259.83 415.26L259.22 415.14L258.61 415.02L258 414.9L257.39 414.78L256.78 414.65L256.17 414.52L255.57 414.39L254.96 414.26L254.35 414.12L253.75 413.98L253.14 413.84L252.54 413.7L251.94 413.55L251.33 413.41L250.73 413.25L250.13 413.1L249.53 412.95L248.92 412.79L248.32 412.63L247.72 412.47L247.13 412.3L246.53 412.13L245.93 411.96L245.33 411.79L244.74 411.62L244.14 411.44L243.55 411.26L242.95 411.08L242.36 410.9L241.77 410.71L241.17 410.52L240.58 410.33L239.99 410.14L239.4 409.94L238.81 409.75L238.23 409.55L237.64 409.34L237.05 409.14L236.47 408.93L235.88 408.72L235.3 408.51L234.71 408.3L234.13 408.08L233.55 407.86L232.97 407.64L232.39 407.42L231.81 407.19L231.23 406.96L230.66 406.73L230.08 406.5L229.51 406.27L228.93 406.03L228.36 405.79L227.79 405.55L227.21 405.3L226.64 405.06L226.07 404.81L225.51 404.56L224.94 404.31L224.37 404.05L223.81 403.79L223.24 403.53L222.68 403.27L222.12 403.01L221.55 402.74L220.99 402.47L220.44 402.2L219.88 401.93L219.32 401.66L218.76 401.38L218.21 401.1L217.66 400.82L217.1 400.53L216.55 400.25L216 399.96L220.57 391.29L221.08 391.56L221.6 391.83L222.12 392.09L222.64 392.36L223.16 392.62L223.68 392.88L224.2 393.14L224.72 393.39L225.25 393.65L225.77 393.9L226.3 394.15L226.83 394.39L227.35 394.64L227.88 394.88L228.41 395.12L228.94 395.36L229.48 395.6L230.01 395.84L230.54 396.07L231.08 396.3L231.61 396.53L232.15 396.75L232.69 396.98L233.23 397.2L233.77 397.42L234.31 397.64L234.85 397.85L235.39 398.07L235.93 398.28L236.47 398.49L237.02 398.7L237.56 398.9L238.11 399.1L238.66 399.3L239.2 399.5L239.75 399.7L240.3 399.89L240.85 400.08L241.4 400.27L241.95 400.46L242.5 400.65L243.06 400.83L243.61 401.01L244.17 401.19L244.72 401.37L245.28 401.54L245.83 401.71L246.39 401.88L246.95 402.05L247.5 402.22L248.06 402.38L248.62 402.54L249.18 402.7L249.74 402.86L250.31 403.01L250.87 403.16L251.43 403.31L251.99 403.46L252.56 403.61L253.12 403.75L253.69 403.89L254.25 404.03L254.82 404.17L255.39 404.3L255.95 404.43L256.52 404.56L257.09 404.69L257.66 404.82L258.23 404.94L258.8 405.06L259.37 405.18L259.94 405.3L260.51 405.41L261.08 405.52L261.65 405.63L262.22 405.74L262.8 405.84L263.37 405.95L263.94 406.05L264.52 406.15L265.09 406.24L265.67 406.33L266.24 406.43L266.82 406.52L267.39 406.6L267.97 406.69L268.55 406.77L269.12 406.85L269.7 406.93L270.28 407L270.86 407.07L271.43 407.15L272.01 407.21L272.59 407.28L273.17 407.34L273.75 407.41L274.33 407.47L274.91 407.52L275.49 407.58L276.07 407.63L276.65 407.68L277.23 407.73L277.81 407.77L278.39 407.82L278.97 407.86L279.55 407.9L280.13 407.93L280.71 407.97L281.3 408L281.88 408.03L282.46 408.05L283.04 408.08L283.62 408.1L284.2 408.12L284.79 408.14L285.37 408.15L285.95 408.17L286.53 408.18L287.12 408.19L287.7 408.19L288.28 408.2L288.87 408.2L289.46 408.2L290.06 408.2L290.66 408.2L291.27 408.2L291.87 408.2L292.47 408.2L293.07 408.2L293.67 408.2L294.27 408.2L294.88 408.2L295.48 408.2L296.08 408.2L296.68 408.2L297.28 408.2L297.89 408.2L298.49 408.2L299.09 408.2L299.69 408.2L300.29 408.2L300.89 408.2L301.5 408.2L302.1 408.2L302.7 408.2L303.3 408.2L303.9 408.2L304.51 408.2L305.11 408.2L305.71 408.2L306.31 408.2L306.91 408.2L307.51 408.2L308.12 408.2L308.72 408.2L309.32 408.2L309.92 408.2L310.52 408.2L311.12 408.2L311.73 408.2L312.33 408.2L312.93 408.2L313.53 408.2L314.13 408.2L314.74 408.2L315.34 408.2L315.94 408.2L316.54 408.2L311.64 413.1ZM216 399.96L215.45 399.67L214.9 399.37L214.36 399.08L213.81 398.78L213.27 398.48L212.72 398.18L212.18 397.88L211.64 397.57L211.1 397.26L210.56 396.95L210.02 396.64L209.49 396.33L208.95 396.01L208.42 395.69L207.89 395.37L207.36 395.05L206.83 394.73L206.3 394.4L205.77 394.07L205.24 393.74L204.72 393.4L204.2 393.07L203.67 392.73L203.15 392.39L202.63 392.05L202.12 391.71L201.6 391.36L201.08 391.01L200.57 390.66L200.06 390.31L199.55 389.96L199.04 389.6L198.53 389.25L198.02 388.89L197.52 388.52L197.01 388.16L196.51 387.79L196.01 387.43L195.51 387.06L195.01 386.68L194.52 386.31L194.02 385.94L193.53 385.56L193.04 385.18L192.55 384.8L192.06 384.41L191.57 384.03L191.08 383.64L190.6 383.25L190.12 382.86L189.63 382.47L189.15 382.07L188.68 381.67L188.2 381.28L187.72 380.87L187.25 380.47L186.78 380.07L186.31 379.66L185.84 379.25L185.37 378.84L184.91 378.43L184.44 378.02L183.98 377.6L183.52 377.18L183.06 376.76L182.61 376.34L182.15 375.92L181.7 375.5L181.24 375.07L180.79 374.64L180.34 374.21L179.9 373.78L179.45 373.35L179.01 372.91L178.57 372.47L178.13 372.03L177.69 371.59L177.25 371.15L176.82 370.71L176.38 370.26L175.95 369.81L175.52 369.36L175.1 368.91L174.67 368.46L174.25 368.01L173.82 367.55L173.4 367.09L172.98 366.63L172.57 366.17L172.15 365.71L171.74 365.25L171.33 364.78L170.92 364.31L170.51 363.84L170.11 363.37L169.7 362.9L169.3 362.43L168.9 361.95L168.5 361.47L168.1 361L167.71 360.51L167.32 360.03L166.93 359.55L166.54 359.06L166.15 358.58L165.77 358.09L165.38 357.6L165 357.11L164.62 356.62L164.25 356.12L163.87 355.63L163.5 355.13L163.13 354.63L162.76 354.13L162.39 353.63L162.03 353.13L161.66 352.62L161.3 352.12L160.94 351.61L160.58 351.1L160.23 350.59L159.88 350.08L159.53 349.57L159.18 349.05L158.83 348.54L158.48 348.02L158.14 347.5L157.8 346.98L157.46 346.46L157.12 345.94L156.79 345.42L156.46 344.89L156.13 344.36L155.8 343.84L155.47 343.31L155.15 342.78L154.83 342.25L154.51 341.71L154.19 341.18L153.87 340.64L153.56 340.11L153.25 339.57L152.94 339.03L152.63 338.49L152.33 337.95L152.02 337.41L151.72 336.86L151.42 336.32L151.13 335.77L150.83 335.22L150.54 334.67L150.25 334.12L149.96 333.57L149.68 333.02L149.39 332.47L149.11 331.91L148.83 331.36L148.56 330.8L148.28 330.24L148.01 329.69L147.74 329.13L147.47 328.57L147.21 328L146.94 327.44L146.68 326.88L146.42 326.31L146.17 325.75L145.91 325.18L145.66 324.61L145.41 324.04L145.16 323.47L144.92 322.9L144.67 322.33L144.43 321.76L144.19 321.18L143.96 320.61L143.72 320.03L143.49 319.46L143.26 318.88L143.03 318.3L142.81 317.72L142.59 317.14L142.37 316.56L142.15 315.98L141.93 315.39L141.72 314.81L141.51 314.23L141.3 313.64L141.09 313.05L140.89 312.47L140.69 311.88L140.49 311.29L140.29 310.7L143.47 304.48L149.59 307.61L149.78 308.16L149.96 308.72L150.15 309.27L150.34 309.82L150.54 310.37L150.73 310.92L150.93 311.46L151.13 312.01L151.33 312.56L151.54 313.1L151.74 313.65L151.95 314.19L152.16 314.73L152.38 315.28L152.59 315.82L152.81 316.36L153.03 316.9L153.25 317.44L153.47 317.98L153.7 318.51L153.93 319.05L154.16 319.58L154.39 320.12L154.62 320.65L154.86 321.18L155.1 321.72L155.34 322.25L155.58 322.78L155.83 323.3L156.07 323.83L156.32 324.36L156.57 324.88L156.83 325.41L157.08 325.93L157.34 326.46L157.6 326.98L157.86 327.5L158.12 328.02L158.39 328.54L158.66 329.05L158.93 329.57L159.2 330.09L159.47 330.6L159.75 331.11L160.03 331.63L160.31 332.14L160.59 332.65L160.87 333.15L161.16 333.66L161.45 334.17L161.74 334.67L162.03 335.18L162.32 335.68L162.62 336.18L162.92 336.68L163.22 337.18L163.52 337.68L163.82 338.18L164.13 338.67L164.44 339.17L164.75 339.66L165.06 340.15L165.37 340.65L165.69 341.14L166.01 341.62L166.33 342.11L166.65 342.6L166.97 343.08L167.3 343.57L167.62 344.05L167.95 344.53L168.28 345.01L168.62 345.49L168.95 345.96L169.29 346.44L169.63 346.91L169.97 347.38L170.31 347.86L170.65 348.33L171 348.79L171.35 349.26L171.7 349.73L172.05 350.19L172.4 350.66L172.76 351.12L173.11 351.58L173.47 352.04L173.83 352.49L174.2 352.95L174.56 353.41L174.93 353.86L175.3 354.31L175.67 354.76L176.04 355.21L176.41 355.66L176.79 356.1L177.16 356.55L177.54 356.99L177.92 357.43L178.3 357.87L178.69 358.31L179.07 358.75L179.46 359.18L179.85 359.61L180.24 360.05L180.63 360.48L181.03 360.91L181.42 361.33L181.82 361.76L182.22 362.18L182.62 362.61L183.02 363.03L183.43 363.45L183.83 363.87L184.24 364.28L184.65 364.7L185.06 365.11L185.47 365.52L185.89 365.93L186.3 366.34L186.72 366.74L187.14 367.15L187.56 367.55L187.98 367.95L188.41 368.35L188.83 368.75L189.26 369.15L189.69 369.54L190.12 369.94L190.55 370.33L190.98 370.72L191.42 371.11L191.85 371.49L192.29 371.88L192.73 372.26L193.17 372.64L193.61 373.02L194.06 373.4L194.5 373.77L194.95 374.15L195.4 374.52L195.85 374.89L196.3 375.26L196.75 375.62L197.21 375.99L197.66 376.35L198.12 376.71L198.58 377.07L199.04 377.43L199.5 377.79L199.96 378.14L200.43 378.49L200.89 378.84L201.36 379.19L201.83 379.54L202.3 379.88L202.77 380.23L203.24 380.57L203.71 380.91L204.19 381.24L204.66 381.58L205.14 381.91L205.62 382.24L206.1 382.57L206.58 382.9L207.07 383.23L207.55 383.55L208.04 383.87L208.52 384.19L209.01 384.51L209.5 384.83L209.99 385.14L210.48 385.46L210.98 385.77L211.47 386.07L211.97 386.38L212.46 386.69L212.96 386.99L213.46 387.29L213.96 387.59L214.46 387.88L214.96 388.18L215.47 388.47L215.97 388.76L216.48 389.05L216.99 389.34L217.49 389.62L218 389.9L218.51 390.18L219.03 390.46L219.54 390.74L220.05 391.01L220.57 391.29ZM139.37 307.85L139.19 307.26L139.01 306.66L138.83 306.07L138.66 305.48L138.48 304.88L138.31 304.28L138.14 303.69L137.98 303.09L137.81 302.49L137.65 301.89L137.49 301.29L137.33 300.69L137.18 300.09L137.03 299.49L136.88 298.89L136.73 298.29L136.58 297.68L136.44 297.08L136.3 296.47L136.16 295.87L136.03 295.26L135.89 294.66L135.76 294.05L135.63 293.45L135.51 292.84L135.38 292.23L135.26 291.62L135.14 291.01L135.03 290.4L134.91 289.79L134.8 289.18L134.69 288.57L134.58 287.96L134.48 287.35L134.38 286.74L134.28 286.13L134.18 285.51L134.09 284.9L134 284.29L133.91 283.67L133.82 283.06L133.73 282.44L133.65 281.83L133.57 281.21L133.49 280.6L133.42 279.98L133.35 279.37L133.27 278.75L133.21 278.13L133.14 277.52L133.08 276.9L133.02 276.28L132.96 275.66L132.9 275.05L132.85 274.43L132.8 273.81L132.75 273.19L132.71 272.57L132.66 271.95L132.62 271.33L132.58 270.72L132.55 270.1L132.51 269.48L132.48 268.86L132.45 268.24L132.43 267.62L132.4 267L132.38 266.38L132.36 265.76L132.35 265.14L132.33 264.52L132.32 263.9L132.31 263.28L132.31 262.66L132.3 262.04L132.3 261.42L132.3 260.8L132.3 260.17L132.31 259.55L132.32 258.93L132.33 258.31L132.34 257.69L132.36 257.07L132.38 256.45L132.4 255.83L132.42 255.21L132.44 254.59L132.47 253.97L132.5 253.35L132.53 252.73L132.57 252.12L132.61 251.5L132.65 250.88L132.69 250.26L132.73 249.64L132.78 249.02L132.83 248.4L132.88 247.78L132.94 247.17L133 246.55L133.06 245.93L133.12 245.31L133.18 244.7L133.25 244.08L133.32 243.46L133.39 242.85L133.46 242.23L133.54 241.62L133.62 241L133.7 240.39L133.79 239.77L133.87 239.16L133.96 238.54L134.05 237.93L134.15 237.32L134.24 236.7L134.34 236.09L134.44 235.48L134.55 234.87L134.65 234.25L134.76 233.64L134.87 233.03L134.98 232.42L135.1 231.81L135.22 231.21L135.34 230.6L135.46 229.99L135.59 229.38L135.71 228.77L135.84 228.17L135.98 227.56L136.11 226.96L136.25 226.35L136.39 225.75L136.53 225.14L136.67 224.54L136.82 223.94L136.97 223.33L137.12 222.73L137.27 222.13L137.43 221.53L137.59 220.93L137.75 220.33L137.91 219.73L138.08 219.14L138.25 218.54L138.42 217.94L138.59 217.35L138.77 216.75L138.94 216.16L139.12 215.56L139.31 214.97L139.49 214.38L139.68 213.79L139.87 213.2L140.06 212.61L140.25 212.02L140.45 211.43L140.65 210.84L140.85 210.25L141.05 209.67L141.26 209.08L141.46 208.5L141.67 207.91L141.89 207.33L142.1 206.75L142.32 206.17L142.54 205.59L142.76 205.01L142.98 204.43L143.21 203.85L143.44 203.27L143.67 202.7L143.9 202.12L144.14 201.55L144.38 200.98L144.62 200.4L144.86 199.83L145.1 199.26L145.35 198.69L145.6 198.13L145.85 197.56L146.1 196.99L146.36 196.43L146.62 195.86L146.88 195.3L147.14 194.74L147.4 194.18L147.67 193.62L147.94 193.06L148.21 192.5L148.49 191.94L148.76 191.39L149.04 190.83L149.32 190.28L149.6 189.73L149.89 189.18L150.17 188.62L150.46 188.08L150.75 187.53L151.05 186.98L151.34 186.44L151.64 185.89L151.94 185.35L160.51 190.1L160.23 190.61L159.95 191.12L159.67 191.63L159.4 192.14L159.13 192.66L158.85 193.17L158.59 193.69L158.32 194.2L158.05 194.72L157.79 195.24L157.53 195.76L157.27 196.28L157.02 196.8L156.76 197.33L156.51 197.85L156.26 198.37L156.01 198.9L155.77 199.43L155.52 199.96L155.28 200.48L155.04 201.01L154.8 201.55L154.57 202.08L154.33 202.61L154.1 203.14L153.87 203.68L153.65 204.21L153.42 204.75L153.2 205.29L152.98 205.82L152.76 206.36L152.54 206.9L152.33 207.44L152.12 207.99L151.91 208.53L151.7 209.07L151.49 209.62L151.29 210.16L151.09 210.71L150.89 211.25L150.69 211.8L150.5 212.35L150.3 212.9L150.11 213.45L149.92 214L149.74 214.55L149.55 215.1L149.37 215.65L149.19 216.2L149.02 216.76L148.84 217.31L148.67 217.87L148.5 218.42L148.33 218.98L148.16 219.54L148 220.09L147.84 220.65L147.68 221.21L147.52 221.77L147.36 222.33L147.21 222.89L147.06 223.46L146.91 224.02L146.76 224.58L146.62 225.14L146.48 225.71L146.34 226.27L146.2 226.84L146.06 227.4L145.93 227.97L145.8 228.54L145.67 229.1L145.55 229.67L145.42 230.24L145.3 230.81L145.18 231.38L145.06 231.95L144.95 232.52L144.83 233.09L144.72 233.66L144.62 234.23L144.51 234.8L144.41 235.37L144.3 235.95L144.21 236.52L144.11 237.09L144.01 237.67L143.92 238.24L143.83 238.82L143.74 239.39L143.66 239.97L143.57 240.54L143.49 241.12L143.41 241.69L143.34 242.27L143.26 242.85L143.19 243.42L143.12 244L143.05 244.58L142.99 245.16L142.93 245.73L142.87 246.31L142.81 246.89L142.75 247.47L142.7 248.05L142.65 248.63L142.6 249.21L142.55 249.79L142.51 250.37L142.47 250.95L142.43 251.53L142.39 252.11L142.35 252.69L142.32 253.27L142.29 253.85L142.26 254.43L142.23 255.01L142.21 255.59L142.19 256.18L142.17 256.76L142.15 257.34L142.14 257.92L142.13 258.5L142.12 259.08L142.11 259.66L142.1 260.25L142.1 260.83L142.1 261.41L142.1 261.99L142.11 262.57L142.11 263.15L142.12 263.73L142.13 264.32L142.14 264.9L142.16 265.48L142.18 266.06L142.2 266.64L142.22 267.22L142.24 267.8L142.27 268.38L142.3 268.97L142.33 269.55L142.37 270.13L142.4 270.71L142.44 271.29L142.48 271.87L142.52 272.45L142.57 273.03L142.62 273.61L142.67 274.19L142.72 274.77L142.77 275.34L142.83 275.92L142.89 276.5L142.95 277.08L143.01 277.66L143.08 278.24L143.15 278.81L143.22 279.39L143.29 279.97L143.37 280.54L143.44 281.12L143.52 281.7L143.6 282.27L143.69 282.85L143.78 283.42L143.86 284L143.96 284.57L144.05 285.15L144.14 285.72L144.24 286.29L144.34 286.87L144.44 287.44L144.55 288.01L144.66 288.58L144.77 289.15L144.88 289.73L144.99 290.3L145.11 290.87L145.22 291.43L145.34 292L145.47 292.57L145.59 293.14L145.72 293.71L145.85 294.27L145.98 294.84L146.11 295.41L146.25 295.97L146.39 296.54L146.53 297.1L146.67 297.67L146.82 298.23L146.96 298.79L147.11 299.35L147.27 299.91L147.42 300.48L147.58 301.04L147.73 301.6L147.9 302.15L148.06 302.71L148.22 303.27L148.39 303.83L148.56 304.38L148.73 304.94L142.67 301.69Z"/>
<path fill="#a1c8ca" d="M227.04 236.87L227.18 236.18L227.33 235.49L227.48 234.8L227.64 234.11L227.8 233.43L227.97 232.74L228.14 232.06L228.31 231.38L228.49 230.69L228.68 230.01L228.87 229.34L229.06 228.66L229.26 227.98L229.46 227.31L229.67 226.63L229.88 225.96L230.09 225.29L230.31 224.62L230.54 223.95L230.77 223.29L231 222.62L231.24 221.96L231.48 221.3L231.73 220.64L231.98 219.98L232.24 219.32L232.5 218.67L232.76 218.01L233.03 217.36L233.31 216.71L233.58 216.06L233.87 215.42L234.15 214.77L234.44 214.13L234.74 213.49L235.04 212.85L235.34 212.22L235.65 211.58L235.96 210.95L236.28 210.32L236.6 209.69L236.92 209.07L237.25 208.45L237.58 207.82L237.92 207.21L238.26 206.59L238.61 205.97L238.95 205.36L239.31 204.75L239.67 204.15L240.03 203.54L240.39 202.94L240.76 202.34L241.13 201.74L241.51 201.14L241.89 200.55L242.28 199.96L242.67 199.37L243.06 198.79L243.46 198.21L243.86 197.63L244.26 197.05L244.67 196.48L245.09 195.91L245.5 195.34L245.92 194.77L246.35 194.21L246.77 193.65L247.2 193.09L247.64 192.54L248.08 191.98L248.52 191.44L248.97 190.89L249.42 190.35L249.87 189.81L250.33 189.27L250.79 188.74L251.25 188.21L251.72 187.68L252.19 187.16L252.67 186.63L253.14 186.12L253.62 185.6L254.11 185.09L254.6 184.58L255.09 184.08L255.58 183.58L256.08 183.08L256.58 182.58L257.09 182.09L257.6 181.6L258.11 181.12L258.62 180.64L259.14 180.16L259.66 179.68L260.19 179.21L260.71 178.75L261.24 178.28L261.78 177.82L262.31 177.36L262.85 176.91L263.4 176.46L263.94 176.02L264.49 175.57L265.04 175.13L265.6 174.7L266.16 174.27L266.72 173.84L267.28 173.42L267.84 173L268.41 172.58L268.98 172.17L269.56 171.76L270.14 171.35L270.72 170.95L271.3 170.56L271.88 170.16L272.47 169.77L273.06 169.39L273.65 169.01L274.25 168.63L274.85 168.26L275.45 167.89L276.05 167.52L276.65 167.16L277.26 166.8L277.87 166.45L278.48 166.1L279.1 165.76L279.71 165.41L280.33 165.08L280.95 164.74L281.58 164.42L282.2 164.09L282.83 163.77L283.46 163.46L284.09 163.14L284.73 162.84L285.36 162.53L286 162.23L286.64 161.94L287.28 161.65L287.93 161.36L288.57 161.08L289.22 160.8L289.87 160.53L290.52 160.26L291.18 160L291.83 159.74L292.49 159.48L293.15 159.23L293.81 158.98L294.47 158.74L295.13 158.5L295.79 158.27L296.46 158.04L297.13 157.81L297.8 157.59L298.47 157.37L299.14 157.16L299.82 156.96L300.49 156.75L301.17 156.56L301.84 156.36L302.52 156.17L303.2 155.99L303.89 155.81L304.57 155.63L305.25 155.46L305.94 155.3L306.62 155.14L307.31 154.98L308 154.83L308.69 154.68L309.38 154.53L310.07 154.4L310.76 154.26L311.45 154.13L312.15 154.01L312.84 153.89L313.54 153.77L314.23 153.66L314.93 153.55L315.63 153.45L316.32 153.36L317.02 153.26L317.72 153.18L318.42 153.09L319.12 153.01L319.82 152.94L320.52 152.87L321.23 152.81L321.93 152.75L322.63 152.69L323.33 152.64L324.04 152.6L324.74 152.56L325.44 152.52L326.15 152.49L326.85 152.46L327.56 152.44L328.26 152.42L328.97 152.41L329.67 152.4L330.38 152.4L331.08 152.4L331.79 152.41L332.49 152.42L333.19 152.43L333.9 152.45L334.6 152.48L335.31 152.5L336.01 152.54L336.72 152.58L337.42 152.62L338.12 152.66L338.83 152.71L339.53 152.77L340.23 152.83L340.93 152.89L341.63 152.96L342.33 153.04L343.04 153.12L343.74 153.2L344.43 153.29L345.13 153.38L345.83 153.47L346.53 153.57L347.23 153.68L347.92 153.79L348.62 153.9L349.32 154.02L350.01 154.14L350.7 154.27L351.4 154.4L352.09 154.54L352.78 154.68L353.47 154.83L354.16 154.98L354.85 155.13L355.54 155.29L356.22 155.45L356.91 155.62L357.59 155.79L358.27 155.97L358.96 156.15L359.64 156.33L360.32 156.52L361 156.72L361.67 156.92L362.35 157.12L363.02 157.33L363.7 157.54L364.37 157.76L365.04 157.98L365.71 158.2L366.38 158.43L367.04 158.67L367.71 158.91L368.37 159.15L369.03 159.4L369.7 159.65L370.35 159.9L371.01 160.16L371.67 160.43L372.32 160.7L372.97 160.97L373.62 161.25L374.27 161.53L374.89 161.81L375.45 162.06L375.97 162.29L376.44 162.49L376.91 162.69L377.38 162.89L377.86 163.09L378.33 163.28L378.8 163.47L379.28 163.66L379.75 163.84L380.23 164.03L380.71 164.21L381.19 164.38L381.67 164.56L382.15 164.73L382.63 164.9L383.11 165.06L383.59 165.23L384.08 165.39L384.56 165.54L385.05 165.7L385.53 165.85L386.02 166L386.51 166.15L387 166.29L387.49 166.44L387.98 166.57L388.47 166.71L388.96 166.84L389.45 166.98L389.95 167.1L390.44 167.23L390.93 167.35L391.43 167.47L391.92 167.59L392.42 167.7L392.92 167.82L393.41 167.93L393.91 168.03L394.41 168.14L394.91 168.24L395.41 168.34L395.91 168.43L396.41 168.53L396.91 168.62L397.41 168.7L397.91 168.79L398.41 168.87L398.92 168.95L399.42 169.03L399.92 169.1L400.43 169.17L400.93 169.24L401.43 169.31L401.94 169.37L402.44 169.44L402.95 169.49L403.45 169.55L403.96 169.6L404.46 169.65L404.97 169.7L405.48 169.74L405.98 169.79L406.49 169.83L407 169.86L407.5 169.9L408.01 169.93L408.52 169.96L409.03 169.98L409.53 170.01L421.26 186.24L408 202.9L407.3 202.87L406.61 202.84L405.92 202.81L405.22 202.78L404.53 202.74L403.84 202.7L403.14 202.65L402.45 202.6L401.76 202.55L401.07 202.5L400.37 202.44L399.68 202.38L398.99 202.32L398.3 202.26L397.6 202.19L396.91 202.11L396.22 202.04L395.53 201.96L394.84 201.88L394.15 201.79L393.46 201.7L392.77 201.61L392.08 201.52L391.39 201.42L390.7 201.32L390.01 201.21L389.32 201.1L388.63 200.99L387.95 200.87L387.26 200.75L386.57 200.63L385.88 200.5L385.2 200.37L384.51 200.24L383.83 200.1L383.14 199.96L382.46 199.82L381.78 199.67L381.09 199.52L380.41 199.36L379.73 199.2L379.05 199.04L378.37 198.87L377.69 198.7L377.01 198.53L376.34 198.35L375.66 198.17L374.98 197.98L374.31 197.79L373.64 197.59L372.96 197.39L372.29 197.19L371.62 196.98L370.95 196.77L370.28 196.56L369.62 196.34L368.95 196.12L368.28 195.89L367.62 195.66L366.96 195.42L366.3 195.18L365.64 194.94L364.98 194.69L364.32 194.44L363.67 194.18L363.02 193.92L362.36 193.65L361.72 193.39L361.13 193.14L360.59 192.92L360.12 192.72L359.67 192.55L359.23 192.37L358.78 192.2L358.33 192.03L357.89 191.86L357.44 191.7L356.99 191.53L356.54 191.37L356.09 191.21L355.64 191.06L355.18 190.91L354.73 190.75L354.28 190.6L353.82 190.46L353.37 190.31L352.92 190.17L352.46 190.03L352 189.89L351.55 189.75L351.09 189.62L350.63 189.49L350.17 189.36L349.71 189.23L349.25 189.11L348.79 188.98L348.33 188.86L347.87 188.75L347.41 188.64L346.94 188.53L346.48 188.43L346.01 188.34L345.54 188.25L345.07 188.16L344.6 188.08L344.13 188.01L343.66 187.94L343.19 187.87L342.72 187.81L342.25 187.75L341.77 187.69L341.3 187.64L340.83 187.59L340.35 187.55L339.88 187.51L339.41 187.47L338.93 187.44L338.46 187.41L337.99 187.38L337.51 187.35L337.04 187.33L336.56 187.31L336.09 187.29L335.62 187.27L335.14 187.26L334.67 187.25L334.2 187.24L333.73 187.23L333.25 187.22L332.78 187.21L332.31 187.21L331.83 187.2L331.36 187.2L330.89 187.2L330.42 187.2L329.94 187.2L329.47 187.2L329 187.21L328.53 187.21L328.05 187.22L327.58 187.23L327.11 187.24L326.64 187.25L326.16 187.26L325.69 187.28L325.22 187.29L324.74 187.31L324.27 187.33L323.8 187.35L323.32 187.37L322.85 187.4L322.37 187.43L321.9 187.46L321.43 187.49L320.95 187.52L320.48 187.56L320 187.6L319.53 187.64L319.06 187.69L318.58 187.73L318.11 187.78L317.63 187.84L317.16 187.9L316.69 187.96L316.21 188.02L315.74 188.09L315.27 188.16L314.8 188.24L314.33 188.32L313.85 188.4L313.38 188.49L312.91 188.58L312.45 188.68L311.98 188.78L311.51 188.88L311.04 188.99L310.58 189.11L310.12 189.23L309.65 189.35L309.19 189.48L308.73 189.61L308.27 189.75L307.81 189.89L307.36 190.04L306.9 190.19L306.45 190.35L306 190.51L305.55 190.67L305.1 190.84L304.65 191L304.2 191.17L303.75 191.33L303.3 191.5L302.85 191.67L302.4 191.84L301.95 192.01L301.5 192.18L301.05 192.35L300.6 192.52L300.16 192.7L299.71 192.87L299.26 193.05L298.81 193.22L298.36 193.4L297.91 193.59L297.47 193.77L297.02 193.95L296.57 194.14L296.12 194.33L295.68 194.52L295.23 194.71L294.79 194.9L294.34 195.1L293.9 195.3L293.45 195.5L293.01 195.71L292.57 195.91L292.13 196.12L291.69 196.34L291.25 196.55L290.81 196.77L290.37 197L289.94 197.22L289.51 197.45L289.07 197.68L288.64 197.92L288.21 198.16L287.79 198.4L287.36 198.65L286.94 198.9L286.52 199.16L286.1 199.42L285.68 199.68L285.27 199.95L284.86 200.22L284.45 200.5L284.04 200.78L283.64 201.06L283.24 201.35L282.84 201.64L282.45 201.94L282.06 202.24L281.67 202.55L281.29 202.86L280.91 203.17L280.53 203.49L280.16 203.82L279.79 204.14L279.42 204.48L279.06 204.81L278.71 205.15L278.35 205.5L278 205.85L277.66 206.2L277.31 206.55L276.97 206.91L276.63 207.27L276.29 207.63L275.96 207.99L275.62 208.36L275.29 208.72L274.97 209.09L274.64 209.46L274.32 209.84L274 210.21L273.68 210.59L273.37 210.97L273.05 211.35L272.74 211.74L272.44 212.13L272.13 212.51L271.83 212.9L271.53 213.3L271.23 213.69L270.94 214.09L270.65 214.49L270.36 214.89L270.07 215.29L269.79 215.69L269.51 216.1L269.23 216.51L268.95 216.92L268.68 217.33L268.41 217.74L268.14 218.16L267.88 218.58L267.62 218.99L267.36 219.41L267.1 219.84L266.85 220.26L266.6 220.69L266.35 221.11L266.1 221.54L265.86 221.97L265.62 222.41L265.39 222.84L265.15 223.27L264.92 223.71L264.7 224.15L264.47 224.59L264.25 225.03L264.03 225.47L263.82 225.92L263.6 226.36L263.39 226.81L263.19 227.26L262.98 227.71L262.78 228.16L262.59 228.61L262.39 229.07L262.2 229.52L262.01 229.98L261.83 230.44L261.64 230.9L261.46 231.36L261.29 231.82L261.11 232.28L260.94 232.74L260.78 233.21L260.61 233.67L260.45 234.14L260.29 234.61L260.14 235.08L259.99 235.55L259.84 236.02L259.69 236.49L259.55 236.96L259.41 237.44L259.28 237.91L259.15 238.39L259.02 238.87L258.89 239.34L258.77 239.82L258.65 240.3L258.53 240.78L258.42 241.26L258.31 241.74L258.2 242.22L258.1 242.71L258 243.19L245.6 228.14Z"/>
<path fill="#dcaaa6" d="M412.58 170.09L413.09 170.1L413.59 170.1L414.1 170.1L414.61 170.1L415.12 170.09L415.63 170.08L416.13 170.07L416.64 170.05L417.15 170.03L417.66 170.01L418.16 169.98L418.67 169.95L419.18 169.92L419.68 169.89L420.19 169.85L420.69 169.81L421.2 169.77L421.71 169.72L422.21 169.67L422.72 169.62L423.22 169.56L423.72 169.5L424.23 169.44L424.73 169.37L425.23 169.31L425.74 169.23L426.24 169.16L426.74 169.08L427.24 169L427.74 168.92L428.24 168.83L428.74 168.74L429.24 168.65L429.74 168.56L430.23 168.46L430.73 168.36L431.23 168.25L431.72 168.14L432.22 168.03L432.71 167.92L433.2 167.8L433.7 167.69L434.19 167.56L434.68 167.44L435.17 167.31L435.66 167.18L436.15 167.05L436.64 166.91L437.12 166.77L437.61 166.63L438.09 166.49L438.58 166.34L439.06 166.19L439.54 166.03L440.03 165.88L440.51 165.72L440.99 165.56L441.46 165.39L441.94 165.23L442.42 165.06L442.89 164.88L443.37 164.71L443.84 164.53L444.31 164.35L444.79 164.17L445.25 163.98L445.72 163.79L446.19 163.6L446.66 163.41L447.12 163.21L447.59 163.01L448.05 162.81L448.51 162.6L448.97 162.4L449.43 162.19L449.89 161.97L450.35 161.76L450.8 161.54L448.33 163.05L448.81 162.81L449.02 162.31L451.26 160.95L453.22 159.98L453.86 159.68L454.51 159.38L455.16 159.09L455.82 158.8L456.47 158.52L457.13 158.24L457.79 157.97L458.45 157.7L459.12 157.44L459.78 157.18L460.45 156.92L461.12 156.67L461.79 156.43L462.46 156.18L463.13 155.95L463.81 155.71L464.49 155.49L465.17 155.26L465.85 155.05L466.53 154.83L467.21 154.62L467.9 154.42L468.58 154.22L469.27 154.02L469.96 153.83L470.65 153.65L471.34 153.46L472.03 153.29L472.73 153.12L473.42 152.95L474.12 152.79L474.82 152.63L475.52 152.48L476.22 152.33L476.92 152.19L477.62 152.05L478.32 151.92L479.03 151.79L479.73 151.67L480.44 151.55L481.15 151.44L481.85 151.33L482.56 151.22L483.27 151.13L483.98 151.03L484.69 150.94L485.4 150.86L486.11 150.78L486.82 150.71L487.54 150.64L488.25 150.58L488.96 150.52L489.68 150.46L490.39 150.41L491.11 150.37L491.82 150.33L492.54 150.3L493.25 150.27L493.97 150.25L494.68 150.23L495.4 150.21L496.12 150.2L496.83 150.2L497.55 150.2L498.26 150.21L498.98 150.22L499.7 150.24L500.41 150.26L501.13 150.28L501.84 150.31L502.56 150.35L503.27 150.39L503.99 150.44L504.7 150.49L505.41 150.54L506.13 150.6L506.84 150.67L507.55 150.74L508.27 150.81L508.98 150.89L509.69 150.98L510.4 151.07L511.11 151.16L511.82 151.26L512.52 151.37L513.23 151.47L513.94 151.59L514.64 151.71L515.35 151.83L516.05 151.96L516.76 152.09L517.46 152.23L518.16 152.38L518.86 152.52L519.56 152.68L520.26 152.83L520.95 153L521.65 153.16L522.34 153.34L523.04 153.51L523.73 153.69L524.42 153.88L525.11 154.07L525.8 154.27L526.48 154.47L527.17 154.67L527.85 154.88L528.53 155.1L529.21 155.31L529.89 155.54L530.57 155.77L531.25 156L531.92 156.24L532.59 156.48L533.26 156.73L533.93 156.98L534.6 157.23L535.27 157.49L535.93 157.76L536.59 158.03L537.25 158.3L537.91 158.58L538.57 158.86L539.22 159.15L539.87 159.44L540.52 159.74L541.17 160.04L541.82 160.34L542.46 160.65L543.1 160.97L543.74 161.28L544.38 161.61L545.01 161.93L545.64 162.26L546.27 162.6L546.9 162.94L547.53 163.28L548.15 163.63L548.77 163.98L549.39 164.34L550 164.7L550.62 165.06L551.23 165.43L551.83 165.8L552.44 166.18L553.04 166.56L553.64 166.95L554.24 167.33L554.83 167.73L555.43 168.12L556.02 168.52L556.6 168.93L557.18 169.34L557.77 169.75L558.34 170.17L558.92 170.59L559.49 171.01L560.06 171.44L560.63 171.87L561.19 172.31L561.75 172.74L562.31 173.19L562.86 173.63L563.41 174.08L563.96 174.54L564.5 175L565.05 175.46L565.58 175.92L566.12 176.39L566.65 176.86L567.18 177.34L567.71 177.81L568.23 178.3L568.75 178.78L569.26 179.27L569.78 179.76L570.29 180.26L570.79 180.76L571.29 181.26L571.79 181.77L572.29 182.27L572.78 182.79L573.27 183.3L573.75 183.82L574.23 184.34L574.71 184.87L575.19 185.39L575.66 185.93L576.13 186.46L576.59 187L577.05 187.54L577.51 188.08L577.96 188.63L578.41 189.17L578.85 189.73L579.29 190.28L579.73 190.84L580.17 191.4L580.6 191.96L581.02 192.53L581.45 193.1L581.86 193.67L582.28 194.24L582.69 194.82L583.1 195.4L583.5 195.98L583.9 196.57L584.3 197.15L584.69 197.74L585.08 198.33L585.46 198.93L585.84 199.53L586.22 200.13L586.59 200.73L586.96 201.33L587.32 201.94L580.39 223.75L563.55 222.47L563.31 222.04L563.06 221.6L562.81 221.16L562.56 220.73L562.31 220.3L562.05 219.87L561.79 219.44L561.52 219.01L561.26 218.59L560.99 218.17L560.71 217.75L560.44 217.33L560.16 216.91L559.88 216.5L559.6 216.08L559.31 215.67L559.02 215.26L558.73 214.86L558.43 214.45L558.14 214.05L557.84 213.65L557.53 213.25L557.23 212.85L556.92 212.46L556.61 212.07L556.3 211.68L555.98 211.29L555.66 210.9L555.34 210.52L555.02 210.14L554.69 209.76L554.37 209.38L554.03 209.01L553.7 208.64L553.37 208.27L553.03 207.9L552.69 207.53L552.34 207.17L552 206.81L551.65 206.45L551.3 206.09L550.95 205.74L550.59 205.39L550.24 205.04L549.88 204.7L549.52 204.35L549.15 204.01L548.79 203.67L548.42 203.34L548.05 203L547.68 202.67L547.3 202.34L546.93 202.01L546.55 201.69L546.17 201.37L545.78 201.05L545.4 200.74L545.01 200.42L544.62 200.11L544.23 199.8L543.84 199.5L543.44 199.2L543.05 198.9L542.65 198.6L542.25 198.3L541.84 198.01L541.44 197.72L541.03 197.43L540.63 197.15L540.22 196.87L539.8 196.59L539.39 196.32L538.98 196.04L538.56 195.77L538.14 195.5L537.72 195.24L537.3 194.98L536.87 194.72L536.45 194.46L536.02 194.21L535.59 193.96L535.16 193.71L534.73 193.47L534.3 193.22L533.86 192.98L533.43 192.75L532.99 192.51L532.55 192.28L532.11 192.06L531.67 191.83L531.23 191.61L530.78 191.39L530.34 191.17L529.89 190.96L529.44 190.75L528.99 190.54L528.54 190.34L528.09 190.14L527.63 189.94L527.18 189.74L526.72 189.55L526.26 189.36L525.8 189.18L525.34 188.99L524.88 188.81L524.42 188.63L523.96 188.46L523.49 188.29L523.03 188.12L522.56 187.95L522.1 187.79L521.63 187.63L521.16 187.48L520.69 187.32L520.22 187.17L519.75 187.03L519.27 186.88L518.8 186.74L518.32 186.6L517.85 186.47L517.37 186.33L516.9 186.21L516.42 186.08L515.94 185.96L515.46 185.84L514.98 185.72L514.5 185.61L514.02 185.5L513.54 185.39L513.05 185.29L512.57 185.18L512.09 185.09L511.6 184.99L511.12 184.9L510.63 184.81L510.14 184.73L509.66 184.64L509.17 184.56L508.68 184.49L508.19 184.42L507.7 184.35L507.22 184.28L506.73 184.21L506.24 184.15L505.75 184.1L505.26 184.04L504.76 183.99L504.27 183.94L503.78 183.9L503.29 183.86L502.8 183.82L502.31 183.78L501.81 183.75L501.32 183.72L500.83 183.7L500.34 183.67L499.84 183.65L499.35 183.64L498.86 183.62L498.36 183.61L497.87 183.61L497.38 183.6L496.88 183.6L496.39 183.6L495.9 183.61L495.4 183.62L494.91 183.63L494.42 183.65L493.92 183.67L493.43 183.69L492.94 183.72L492.45 183.75L491.95 183.78L491.46 183.82L490.97 183.86L490.48 183.9L489.99 183.95L489.5 184L489.01 184.05L488.52 184.11L488.03 184.17L487.54 184.23L487.05 184.3L486.56 184.37L486.07 184.44L485.59 184.52L485.1 184.6L484.61 184.68L484.13 184.77L483.64 184.86L483.16 184.95L482.68 185.05L482.19 185.15L481.71 185.25L481.23 185.36L480.75 185.47L480.27 185.59L479.79 185.7L479.31 185.82L478.84 185.95L478.36 186.07L477.88 186.2L477.41 186.33L476.94 186.47L476.46 186.61L475.99 186.75L475.52 186.9L475.05 187.05L474.58 187.2L474.12 187.36L473.65 187.51L473.19 187.68L472.72 187.84L472.26 188.01L471.8 188.18L471.34 188.35L470.88 188.53L470.42 188.71L469.96 188.9L469.51 189.08L469.05 189.27L468.6 189.46L468.15 189.66L467.7 189.86L467.25 190.06L466.8 190.27L467.61 189.83L468.69 189.04L468.51 189.51L467.95 189.8L464.52 191.74L463.89 192.03L463.26 192.32L462.63 192.6L461.99 192.88L461.36 193.15L460.72 193.43L460.09 193.69L459.45 193.96L458.81 194.22L458.16 194.47L457.52 194.73L456.88 194.98L456.23 195.22L455.58 195.47L454.93 195.7L454.28 195.94L453.63 196.17L452.97 196.4L452.32 196.62L451.66 196.84L451.01 197.06L450.35 197.27L449.69 197.48L449.03 197.69L448.36 197.89L447.7 198.09L447.04 198.28L446.37 198.47L445.7 198.66L445.04 198.84L444.37 199.02L443.7 199.19L443.03 199.36L442.36 199.53L441.68 199.69L441.01 199.85L440.33 200.01L439.66 200.16L438.98 200.31L438.3 200.45L437.63 200.59L436.95 200.73L436.27 200.86L435.59 200.99L434.9 201.11L434.22 201.23L433.54 201.35L432.86 201.46L432.17 201.57L431.49 201.68L430.8 201.78L430.12 201.87L429.43 201.97L428.74 202.06L428.06 202.14L427.37 202.22L426.68 202.3L425.99 202.37L425.3 202.44L424.61 202.51L423.92 202.57L423.23 202.62L422.54 202.68L421.85 202.73L421.16 202.77L420.46 202.81L419.77 202.85L419.08 202.88L418.39 202.91L417.7 202.93L417 202.96L416.31 202.97L415.62 202.99L414.92 202.99L414.23 203L413.54 203L412.85 203L412.15 202.99L424.85 185.92Z"/>
<path fill="#ddba84" d="M589.47 205.73L589.81 206.35L590.14 206.98L590.47 207.6L590.79 208.23L591.11 208.86L591.42 209.5L591.73 210.13L592.04 210.77L592.34 211.41L592.64 212.05L592.93 212.69L593.22 213.34L593.5 213.98L593.78 214.63L594.06 215.28L594.33 215.93L594.6 216.58L594.86 217.24L595.12 217.9L595.38 218.55L595.63 219.21L595.87 219.88L596.12 220.54L596.35 221.2L596.59 221.87L596.82 222.54L597.04 223.2L597.26 223.87L597.48 224.55L597.69 225.22L597.9 225.89L598.1 226.57L598.3 227.25L598.49 227.92L598.68 228.6L598.86 229.28L599.05 229.96L599.22 230.65L599.39 231.33L599.56 232.01L599.72 232.7L599.88 233.39L600.04 234.08L600.19 234.76L600.33 235.45L600.47 236.14L600.61 236.84L600.74 237.53L600.87 238.22L600.99 238.91L601.11 239.61L601.22 240.3L601.33 241L601.44 241.7L601.54 242.39L601.63 243.09L601.72 243.79L601.81 244.49L601.89 245.19L601.97 245.89L602.04 246.59L602.11 247.29L602.18 247.99L602.24 248.69L602.29 249.39L602.34 250.1L602.39 250.8L602.43 251.5L602.47 252.21L602.5 252.91L602.53 253.61L602.55 254.32L602.57 255.02L602.58 255.72L602.59 256.43L602.6 257.13L602.6 257.84L602.6 258.54L602.59 259.24L602.57 259.95L602.56 260.65L602.53 261.36L602.51 262.06L602.48 262.76L602.44 263.47L602.4 264.17L602.35 264.87L602.3 265.57L602.25 266.28L602.19 266.98L602.12 267.68L602.05 268.38L601.98 269.08L601.9 269.78L601.82 270.48L601.73 271.18L601.64 271.88L601.55 272.57L601.44 273.27L601.34 273.97L601.23 274.66L601.11 275.36L600.99 276.05L600.87 276.74L600.74 277.44L600.61 278.13L600.47 278.82L600.33 279.51L600.18 280.2L600.03 280.89L599.87 281.57L599.71 282.26L599.55 282.94L599.38 283.63L599.21 284.31L599.03 284.99L598.84 285.67L598.66 286.35L598.47 287.03L598.27 287.7L598.07 288.38L597.86 289.05L597.65 289.73L597.44 290.4L597.22 291.07L597 291.74L596.77 292.4L596.54 293.07L596.3 293.73L596.06 294.39L595.82 295.05L595.57 295.71L595.31 296.37L595.05 297.03L594.79 297.68L594.53 298.33L594.25 298.98L593.98 299.63L593.7 300.28L593.41 300.92L593.13 301.57L592.83 302.21L592.54 302.85L592.24 303.48L591.93 304.12L591.62 304.75L591.31 305.38L590.99 306.01L590.67 306.64L590.34 307.27L590.01 307.89L589.68 308.51L589.34 309.13L589 309.74L588.65 310.36L588.3 310.97L587.94 311.58L587.58 312.19L587.22 312.79L586.85 313.39L586.48 313.99L586.11 314.59L585.73 315.19L585.35 315.78L584.96 316.37L584.57 316.95L584.17 317.54L583.78 318.12L583.37 318.7L582.97 319.28L582.56 319.85L582.14 320.42L581.73 320.99L581.3 321.56L580.88 322.12L580.45 322.68L580.02 323.24L579.58 323.79L579.14 324.34L578.7 324.89L578.25 325.44L577.8 325.98L577.34 326.52L576.89 327.06L576.42 327.59L575.96 328.12L575.49 328.65L575.02 329.18L574.54 329.7L574.06 330.21L573.58 330.73L573.09 331.24L572.6 331.75L572.11 332.25L571.61 332.76L571.11 333.26L570.61 333.75L570.1 334.24L569.59 334.73L569.08 335.22L568.56 335.7L568.04 336.18L567.52 336.65L566.99 337.12L566.46 337.59L565.93 338.06L565.4 338.52L564.86 338.97L564.32 339.43L563.77 339.88L563.22 340.32L562.67 340.77L562.12 341.21L561.56 341.64L561 342.07L560.44 342.5L559.88 342.93L559.31 343.35L558.74 343.76L558.16 344.17L557.59 344.58L557.01 344.99L556.43 345.39L555.84 345.79L555.25 346.18L554.66 346.57L554.07 346.96L553.48 347.34L552.88 347.72L552.28 348.09L551.68 348.46L551.07 348.82L550.46 349.19L549.85 349.54L549.24 349.9L548.62 350.25L548.01 350.59L547.39 350.93L546.77 351.27L546.14 351.6L545.52 351.93L544.89 352.25L544.26 352.57L543.62 352.89L542.99 353.2L542.35 353.51L541.71 353.81L541.07 354.11L540.43 354.41L539.78 354.7L539.13 354.98L538.49 355.26L537.83 355.54L537.18 355.81L536.53 356.08L535.87 356.34L535.21 356.6L534.55 356.86L533.89 357.11L533.23 357.36L532.56 357.6L531.9 357.83L531.23 358.07L530.56 358.3L529.89 358.52L529.21 358.74L528.54 358.95L527.86 359.16L527.19 359.37L526.51 359.57L525.83 359.77L525.15 359.96L524.46 360.15L523.78 360.33L523.09 360.51L522.41 360.68L521.72 360.85L521.03 361.01L520.34 361.17L519.65 361.33L518.96 361.48L518.27 361.62L517.57 361.77L516.88 361.9L516.18 362.03L515.49 362.16L514.79 362.28L514.09 362.4L513.39 362.51L512.69 362.62L511.99 362.72L511.29 362.82L510.59 362.92L509.89 363.01L509.18 363.09L508.48 363.17L507.77 363.25L507.07 363.32L506.37 363.38L505.66 363.44L504.95 363.5L504.25 363.55L503.54 363.6L502.83 363.64L502.13 363.67L501.42 363.71L488.56 347.2L500.1 331.94L500.59 331.92L501.09 331.89L501.58 331.86L502.08 331.83L502.57 331.8L503.07 331.76L503.56 331.72L504.06 331.68L504.55 331.63L505.04 331.58L505.54 331.52L506.03 331.47L506.52 331.41L507.01 331.34L507.51 331.28L508 331.21L508.49 331.14L508.98 331.06L509.47 330.98L509.96 330.9L510.45 330.81L510.94 330.73L511.42 330.63L511.91 330.54L512.4 330.44L512.88 330.34L513.37 330.24L513.85 330.13L514.34 330.02L514.82 329.9L515.3 329.79L515.79 329.67L516.27 329.54L516.75 329.42L517.23 329.29L517.71 329.16L518.18 329.02L518.66 328.88L519.14 328.74L519.61 328.6L520.09 328.45L520.56 328.3L521.03 328.14L521.5 327.99L521.97 327.83L522.44 327.66L522.91 327.5L523.38 327.33L523.85 327.15L524.31 326.98L524.77 326.8L525.24 326.62L525.7 326.43L526.16 326.25L526.62 326.05L527.08 325.86L527.53 325.66L527.99 325.47L528.44 325.26L528.9 325.06L529.35 324.85L529.8 324.64L530.25 324.42L530.7 324.2L531.14 323.98L531.59 323.76L532.03 323.53L532.47 323.31L532.91 323.07L533.35 322.84L533.79 322.6L534.23 322.36L534.66 322.12L535.09 321.87L535.52 321.62L535.95 321.37L536.38 321.11L536.81 320.85L537.23 320.59L537.66 320.33L538.08 320.06L538.5 319.79L538.92 319.52L539.33 319.25L539.75 318.97L540.16 318.69L540.57 318.41L540.98 318.12L541.39 317.83L541.79 317.54L542.19 317.25L542.6 316.95L543 316.65L543.39 316.35L543.79 316.05L544.18 315.74L544.57 315.43L544.96 315.12L545.35 314.8L545.74 314.48L546.12 314.16L546.5 313.84L546.88 313.52L547.26 313.19L547.63 312.86L548 312.52L548.38 312.19L548.74 311.85L549.11 311.51L549.47 311.17L549.84 310.82L550.19 310.47L550.55 310.12L550.91 309.77L551.26 309.42L551.61 309.06L551.96 308.7L552.3 308.34L552.65 307.97L552.99 307.6L553.32 307.24L553.66 306.86L553.99 306.49L554.32 306.11L554.65 305.74L554.98 305.36L555.3 304.97L555.62 304.59L555.94 304.2L556.25 303.81L556.57 303.42L556.88 303.03L557.19 302.63L557.49 302.23L557.79 301.83L558.09 301.43L558.39 301.03L558.68 300.62L558.98 300.21L559.27 299.8L559.55 299.39L559.83 298.98L560.12 298.56L560.39 298.14L560.67 297.72L560.94 297.3L561.21 296.88L561.48 296.45L561.74 296.03L562 295.6L562.26 295.17L562.51 294.73L562.77 294.3L563.02 293.86L563.26 293.43L563.51 292.99L563.75 292.54L563.98 292.1L564.22 291.66L564.45 291.21L564.68 290.76L564.9 290.31L565.12 289.86L565.34 289.41L565.56 288.96L565.77 288.5L565.98 288.05L566.19 287.59L566.39 287.13L566.59 286.67L566.79 286.2L566.99 285.74L567.18 285.27L567.37 284.81L567.55 284.34L567.73 283.87L567.91 283.4L568.09 282.93L568.26 282.46L568.43 281.98L568.59 281.51L568.75 281.03L568.91 280.55L569.07 280.07L569.22 279.59L569.37 279.11L569.52 278.63L569.66 278.15L569.8 277.66L569.94 277.18L570.07 276.69L570.2 276.21L570.32 275.72L570.45 275.23L570.57 274.74L570.68 274.25L570.79 273.76L570.9 273.27L571.01 272.78L571.11 272.28L571.21 271.79L571.31 271.3L571.4 270.8L571.49 270.3L571.58 269.81L571.66 269.31L571.74 268.81L571.81 268.31L571.88 267.82L571.95 267.32L572.02 266.82L572.08 266.32L572.14 265.82L572.19 265.31L572.24 264.81L572.29 264.31L572.34 263.81L572.38 263.31L572.41 262.8L572.45 262.3L572.48 261.8L572.51 261.3L572.53 260.79L572.55 260.29L572.57 259.78L572.58 259.28L572.59 258.78L572.6 258.27L572.6 257.77L572.6 257.26L572.59 256.76L572.59 256.26L572.58 255.75L572.56 255.25L572.54 254.74L572.52 254.24L572.5 253.74L572.47 253.23L572.44 252.73L572.4 252.23L572.36 251.73L572.32 251.22L572.27 250.72L572.22 250.22L572.17 249.72L572.11 249.22L572.05 248.72L571.99 248.22L571.92 247.72L571.85 247.22L571.78 246.72L571.7 246.22L571.62 245.73L571.54 245.23L571.45 244.73L571.36 244.24L571.27 243.74L571.17 243.25L571.07 242.75L570.96 242.26L570.85 241.77L570.74 241.28L570.63 240.79L570.51 240.3L570.39 239.81L570.26 239.32L570.13 238.84L570 238.35L569.87 237.87L569.73 237.38L569.59 236.9L569.44 236.42L569.29 235.94L569.14 235.46L568.99 234.98L568.83 234.5L568.67 234.02L568.5 233.55L568.33 233.07L568.16 232.6L567.99 232.13L567.81 231.66L567.63 231.19L567.44 230.72L567.26 230.26L567.07 229.79L566.87 229.33L566.68 228.86L566.48 228.4L566.27 227.94L566.07 227.49L565.86 227.03L565.64 226.57L565.43 226.12L565.21 225.67L564.99 225.22L581.81 227.49Z"/>
<path fill="#a6ca9c" d="M495.76 363.79L495.05 363.78L494.34 363.77L493.63 363.75L492.92 363.72L492.21 363.69L491.51 363.66L490.8 363.62L490.09 363.58L489.38 363.53L488.68 363.47L487.97 363.42L487.26 363.35L486.56 363.29L485.85 363.22L485.15 363.14L484.44 363.06L483.74 362.97L483.04 362.88L482.33 362.79L481.63 362.69L480.93 362.58L480.23 362.47L479.53 362.36L478.83 362.24L478.13 362.12L477.43 361.99L476.74 361.86L476.04 361.72L475.35 361.58L474.65 361.43L473.96 361.28L473.27 361.13L472.58 360.97L471.89 360.8L471.2 360.63L470.51 360.46L469.83 360.28L469.14 360.1L468.46 359.91L467.77 359.72L467.09 359.52L466.41 359.32L465.73 359.12L465.06 358.91L464.38 358.69L463.71 358.47L463.03 358.25L462.36 358.02L461.69 357.79L461.02 357.55L460.36 357.31L459.69 357.06L459.03 356.81L458.37 356.56L457.71 356.3L457.05 356.04L456.39 355.77L455.74 355.5L455.08 355.22L454.43 354.94L453.78 354.65L453.14 354.36L452.49 354.07L451.85 353.77L451.21 353.47L450.57 353.16L449.93 352.85L449.29 352.53L449 352.39L451.81 353.29L451.47 353.38L451.12 353.33L446.9 351.71L446.46 351.49L446.02 351.27L445.58 351.06L445.13 350.84L444.69 350.63L444.24 350.43L443.79 350.23L443.34 350.03L442.89 349.83L442.44 349.64L441.99 349.45L441.53 349.26L441.08 349.07L440.62 348.89L440.17 348.71L439.71 348.54L439.25 348.37L438.78 348.2L438.32 348.03L437.86 347.87L437.39 347.71L436.93 347.55L436.46 347.4L435.99 347.25L435.53 347.1L435.06 346.96L434.58 346.82L434.11 346.68L433.64 346.54L433.17 346.41L432.69 346.28L432.22 346.16L431.74 346.04L431.27 345.92L430.79 345.8L430.31 345.69L429.83 345.58L429.35 345.48L428.87 345.37L428.39 345.27L427.91 345.18L427.43 345.08L426.94 344.99L426.46 344.91L425.98 344.82L425.49 344.74L425.01 344.67L424.52 344.59L424.03 344.52L423.55 344.46L423.06 344.39L422.57 344.33L422.09 344.27L421.6 344.22L421.11 344.17L420.62 344.12L420.13 344.08L419.64 344.04L419.15 344L418.66 343.96L418.17 343.93L417.68 343.91L417.19 343.88L416.7 343.86L416.21 343.84L415.72 343.83L415.23 343.82L414.74 343.81L414.25 343.8L413.75 343.8L413.26 343.8L412.77 343.81L412.28 343.81L411.79 343.83L411.3 343.84L410.81 343.86L410.32 343.88L409.83 343.9L409.34 343.93L408.85 343.96L408.36 343.99L407.87 344.03L407.38 344.07L406.89 344.11L406.4 344.16L405.91 344.21L405.42 344.26L404.93 344.32L404.45 344.37L403.96 344.44L403.47 344.5L402.98 344.57L402.5 344.64L402.01 344.72L401.53 344.79L401.04 344.88L400.56 344.96L400.07 345.05L399.59 345.14L399.11 345.23L398.63 345.33L398.15 345.43L397.67 345.53L397.19 345.64L396.71 345.75L396.23 345.86L395.75 345.98L395.27 346.09L394.8 346.22L394.32 346.34L393.85 346.47L393.37 346.6L392.9 346.74L392.43 346.87L391.96 347.01L391.49 347.16L391.02 347.31L390.55 347.46L390.08 347.61L389.61 347.76L389.15 347.92L388.68 348.09L388.22 348.25L387.76 348.42L387.3 348.59L386.84 348.77L386.38 348.95L385.92 349.13L385.46 349.31L385.01 349.5L384.55 349.69L384.1 349.88L383.65 350.08L383.2 350.28L382.75 350.48L382.3 350.68L381.85 350.89L381.41 351.1L380.97 351.32L380.52 351.53L380.06 351.77L379.54 352.03L378.96 352.33L378.33 352.64L377.7 352.95L377.06 353.26L376.42 353.56L375.78 353.86L375.14 354.16L374.49 354.45L373.85 354.73L373.2 355.02L372.55 355.29L371.89 355.57L371.24 355.84L370.58 356.1L369.93 356.36L369.27 356.62L368.61 356.87L367.94 357.12L367.28 357.36L366.61 357.6L365.95 357.83L365.28 358.06L364.61 358.29L363.93 358.51L363.26 358.73L362.59 358.94L361.91 359.15L361.23 359.35L360.56 359.55L359.88 359.74L359.19 359.93L358.51 360.12L357.83 360.3L357.14 360.47L356.46 360.65L355.77 360.81L355.08 360.98L354.39 361.13L353.71 361.29L353.01 361.44L352.32 361.58L351.63 361.72L350.94 361.86L350.24 361.99L349.55 362.11L348.85 362.24L348.15 362.35L347.46 362.47L346.76 362.58L346.06 362.68L345.36 362.78L329.38 347.99L340.99 332L341.49 331.92L341.98 331.84L342.47 331.75L342.96 331.66L343.45 331.57L343.94 331.48L344.43 331.38L344.92 331.28L345.41 331.17L345.89 331.06L346.38 330.95L346.86 330.83L347.35 330.71L347.83 330.59L348.31 330.46L348.79 330.34L349.27 330.2L349.75 330.07L350.23 329.93L350.71 329.78L351.18 329.64L351.66 329.49L352.13 329.33L352.6 329.18L353.08 329.02L353.55 328.86L354.01 328.69L354.48 328.52L354.95 328.35L355.41 328.17L355.88 327.99L356.34 327.81L356.8 327.62L357.26 327.44L357.72 327.24L358.18 327.05L358.63 326.85L359.09 326.65L359.54 326.45L359.99 326.24L360.44 326.03L360.89 325.82L361.34 325.6L361.78 325.38L362.22 325.16L362.67 324.94L363.11 324.71L363.55 324.48L363.98 324.24L364.43 324L364.91 323.73L365.45 323.44L366.05 323.12L366.68 322.79L367.31 322.46L367.94 322.14L368.57 321.82L369.2 321.51L369.84 321.2L370.48 320.89L371.12 320.59L371.76 320.29L372.41 320L373.06 319.72L373.71 319.43L374.36 319.15L375.01 318.88L375.67 318.61L376.32 318.34L376.98 318.08L377.64 317.83L378.31 317.57L378.97 317.33L379.64 317.08L380.3 316.85L380.97 316.61L381.65 316.38L382.32 316.16L382.99 315.94L383.67 315.73L384.35 315.52L385.03 315.31L385.71 315.11L386.39 314.91L387.07 314.72L387.76 314.54L388.45 314.35L389.13 314.18L389.82 314.01L390.51 313.84L391.2 313.68L391.9 313.52L392.59 313.37L393.28 313.22L393.98 313.08L394.68 312.94L395.38 312.8L396.07 312.68L396.77 312.55L397.48 312.44L398.18 312.32L398.88 312.21L399.58 312.11L400.29 312.01L400.99 311.92L401.7 311.83L402.4 311.75L403.11 311.67L403.82 311.6L404.52 311.53L405.23 311.46L405.94 311.41L406.65 311.35L407.36 311.31L408.07 311.26L408.78 311.22L409.49 311.19L410.2 311.16L410.91 311.14L411.62 311.12L412.33 311.11L413.04 311.1L413.76 311.1L414.47 311.1L415.18 311.11L415.89 311.12L416.6 311.14L417.31 311.16L418.02 311.19L418.73 311.22L419.44 311.26L420.15 311.3L420.86 311.35L421.57 311.4L422.28 311.46L422.99 311.52L423.7 311.59L424.4 311.66L425.11 311.74L425.82 311.82L426.52 311.91L427.23 312L427.93 312.09L428.63 312.19L429.34 312.3L430.04 312.41L430.74 312.53L431.44 312.65L432.14 312.78L432.84 312.91L433.54 313.04L434.23 313.18L434.93 313.33L435.62 313.48L436.32 313.63L437.01 313.79L437.7 313.96L438.39 314.13L439.08 314.3L439.77 314.48L440.45 314.66L441.14 314.85L441.82 315.04L442.5 315.24L443.19 315.44L443.86 315.65L444.54 315.86L445.22 316.08L445.89 316.3L446.57 316.52L447.24 316.76L447.91 316.99L448.58 317.23L449.24 317.47L449.91 317.72L450.57 317.97L451.23 318.23L451.89 318.49L452.55 318.76L453.2 319.03L453.86 319.31L454.51 319.59L455.16 319.87L455.81 320.16L456.45 320.45L457.1 320.75L457.74 321.05L458.38 321.36L459.02 321.67L459.65 321.98L460.29 322.3L460.92 322.62L461.54 322.95L458.45 321.91L458.89 321.99L459.17 321.9L462.99 323.34L463.76 323.74L464.2 323.97L464.64 324.19L465.08 324.42L465.53 324.64L465.97 324.85L466.42 325.07L466.86 325.28L467.31 325.48L467.76 325.69L468.22 325.89L468.67 326.09L469.12 326.28L469.58 326.48L470.04 326.66L470.5 326.85L470.96 327.03L471.42 327.21L471.88 327.39L472.34 327.56L472.81 327.73L473.28 327.9L473.74 328.06L474.21 328.23L474.68 328.38L475.15 328.54L475.62 328.69L476.1 328.84L476.57 328.98L477.05 329.12L477.52 329.26L478 329.39L478.48 329.53L478.96 329.65L479.44 329.78L479.92 329.9L480.4 330.02L480.88 330.13L481.37 330.24L481.85 330.35L482.34 330.46L482.82 330.56L483.31 330.66L483.79 330.75L484.28 330.84L484.77 330.93L485.26 331.01L485.75 331.1L486.24 331.17L486.73 331.25L487.22 331.32L487.71 331.38L488.21 331.45L488.7 331.51L489.19 331.57L489.69 331.62L490.18 331.67L490.67 331.71L491.17 331.76L491.66 331.8L492.16 331.83L492.66 331.87L493.15 331.89L493.65 331.92L494.14 331.94L494.64 331.96L495.14 331.97L495.63 331.99L496.13 331.99L484.39 346.71Z"/>
<path fill="#e9c6aa" d="M340.1 363.37L339.4 363.43L338.69 363.49L337.99 363.54L337.28 363.59L336.58 363.63L335.87 363.67L335.17 363.7L334.46 363.73L333.75 363.75L333.05 363.77L332.34 363.78L331.63 363.79L330.92 363.8L330.22 363.8L329.51 363.8L328.8 363.79L328.1 363.77L327.39 363.75L326.68 363.73L325.98 363.7L325.27 363.67L324.56 363.63L323.86 363.59L323.15 363.54L322.45 363.49L321.74 363.44L321.04 363.37L320.34 363.31L319.63 363.24L318.93 363.16L318.23 363.08L317.52 363L316.82 362.91L316.12 362.81L315.42 362.72L314.72 362.61L314.02 362.5L313.33 362.39L312.63 362.27L311.93 362.15L311.24 362.02L310.54 361.89L309.85 361.76L309.16 361.62L308.47 361.47L307.77 361.32L307.08 361.17L306.4 361.01L305.71 360.84L305.02 360.67L304.34 360.5L303.65 360.32L302.97 360.14L302.29 359.95L301.61 359.76L300.93 359.57L300.25 359.37L299.57 359.16L298.9 358.95L298.22 358.74L297.55 358.52L296.88 358.3L296.21 358.07L295.55 357.84L294.88 357.6L294.21 357.36L293.55 357.11L292.89 356.86L292.23 356.61L291.57 356.35L290.92 356.09L290.26 355.82L289.61 355.55L288.96 355.27L288.31 354.99L287.66 354.7L287.02 354.42L286.38 354.12L285.74 353.82L285.1 353.52L284.46 353.22L283.83 352.9L283.19 352.59L282.56 352.27L281.93 351.95L281.31 351.62L280.68 351.29L280.06 350.95L279.44 350.61L278.83 350.27L278.21 349.92L277.6 349.57L276.99 349.21L276.38 348.85L275.78 348.48L275.17 348.12L274.57 347.74L273.97 347.37L273.38 346.99L272.79 346.6L272.2 346.21L271.61 345.82L271.02 345.42L270.44 345.02L269.86 344.62L269.29 344.21L268.71 343.8L268.14 343.38L267.57 342.96L267.01 342.54L266.44 342.11L265.88 341.68L265.33 341.25L264.77 340.81L264.22 340.37L263.67 339.92L263.13 339.47L262.59 339.02L262.05 338.56L261.51 338.1L260.98 337.64L260.45 337.17L259.92 336.7L259.4 336.22L258.88 335.75L258.36 335.27L257.85 334.78L257.34 334.29L256.83 333.8L256.33 333.31L255.83 332.81L255.33 332.31L254.83 331.8L254.34 331.29L253.86 330.78L253.37 330.27L252.89 329.75L252.42 329.23L251.94 328.7L251.47 328.18L251.01 327.65L250.54 327.11L250.09 326.58L249.63 326.04L249.18 325.49L248.73 324.95L248.29 324.4L247.84 323.85L247.41 323.29L246.97 322.73L246.54 322.17L246.12 321.61L245.7 321.05L245.28 320.48L244.86 319.9L244.45 319.33L244.05 318.75L243.64 318.17L243.24 317.59L242.85 317.01L242.46 316.42L242.07 315.83L241.69 315.23L241.31 314.64L240.93 314.04L240.56 313.44L240.19 312.84L239.83 312.23L239.47 311.63L239.11 311.02L238.76 310.4L238.42 309.79L238.07 309.17L237.73 308.55L237.4 307.93L237.07 307.31L236.74 306.68L236.42 306.05L236.1 305.42L235.79 304.79L235.48 304.16L235.17 303.52L234.87 302.88L234.58 302.24L234.28 301.6L233.99 300.95L233.71 300.31L233.43 299.66L233.16 299.01L232.88 298.36L232.62 297.7L232.36 297.05L232.1 296.39L231.84 295.73L231.6 295.07L231.35 294.41L231.11 293.75L230.87 293.08L230.64 292.41L230.42 291.75L230.19 291.08L229.98 290.4L229.76 289.73L229.55 289.06L229.35 288.38L229.15 287.71L228.95 287.03L228.76 286.35L228.58 285.67L228.39 284.99L228.22 284.3L228.04 283.62L227.87 282.93L227.71 282.25L227.55 281.56L227.4 280.87L227.25 280.18L227.1 279.49L226.96 278.8L226.82 278.11L226.69 277.41L226.57 276.72L226.44 276.02L226.33 275.33L226.21 274.63L226.1 273.93L226 273.24L225.9 272.54L225.81 271.84L225.72 271.14L225.63 270.44L225.55 269.74L225.48 269.03L225.41 268.33L225.34 267.63L225.28 266.93L225.22 266.22L225.17 265.52L225.12 264.82L225.08 264.11L225.04 263.41L225 262.7L224.98 262L224.95 261.29L224.93 260.59L224.92 259.88L224.91 259.18L224.9 258.47L224.9 257.76L224.9 257.06L224.91 256.35L224.93 255.65L224.94 254.94L224.97 254.24L224.99 253.53L225.03 252.83L225.06 252.12L225.11 251.42L225.15 250.71L225.2 250.01L225.26 249.31L225.32 248.6L225.38 247.9L225.45 247.2L225.53 246.5L225.61 245.8L225.69 245.09L225.78 244.39L225.87 243.7L225.97 243L226.07 242.3L226.18 241.6L244.24 232.33L257.4 246.51L257.32 247L257.25 247.49L257.18 247.98L257.12 248.47L257.05 248.96L257 249.45L256.94 249.94L256.89 250.43L256.84 250.92L256.79 251.42L256.75 251.91L256.71 252.4L256.68 252.89L256.64 253.39L256.61 253.88L256.59 254.37L256.57 254.87L256.55 255.36L256.53 255.86L256.52 256.35L256.51 256.85L256.5 257.34L256.5 257.83L256.5 258.33L256.5 258.82L256.51 259.32L256.52 259.81L256.54 260.31L256.55 260.8L256.57 261.3L256.6 261.79L256.62 262.28L256.65 262.78L256.68 263.27L256.72 263.76L256.76 264.26L256.8 264.75L256.85 265.24L256.9 265.73L256.95 266.23L257 266.72L257.06 267.21L257.12 267.7L257.19 268.19L257.26 268.68L257.33 269.17L257.4 269.66L257.48 270.15L257.56 270.63L257.65 271.12L257.73 271.61L257.83 272.09L257.92 272.58L258.02 273.06L258.12 273.55L258.22 274.03L258.33 274.52L258.44 275L258.55 275.48L258.66 275.96L258.78 276.44L258.91 276.92L259.03 277.4L259.16 277.88L259.29 278.36L259.43 278.83L259.56 279.31L259.71 279.78L259.85 280.25L260 280.73L260.15 281.2L260.3 281.67L260.46 282.14L260.62 282.61L260.78 283.08L260.95 283.54L261.12 284.01L261.29 284.47L261.46 284.93L261.64 285.4L261.82 285.86L262.01 286.32L262.19 286.78L262.38 287.23L262.58 287.69L262.77 288.14L262.97 288.6L263.17 289.05L263.38 289.5L263.59 289.95L263.8 290.4L264.01 290.85L264.23 291.29L264.45 291.74L264.67 292.18L264.9 292.62L265.13 293.06L265.36 293.5L265.6 293.93L265.83 294.37L266.07 294.8L266.32 295.23L266.56 295.66L266.81 296.09L267.06 296.52L267.32 296.95L267.58 297.37L267.84 297.79L268.1 298.21L268.37 298.63L268.63 299.05L268.91 299.46L269.18 299.88L269.46 300.29L269.74 300.7L270.02 301.11L270.31 301.51L270.59 301.92L270.88 302.32L271.18 302.72L271.47 303.12L271.77 303.52L272.07 303.91L272.38 304.3L272.68 304.69L272.99 305.08L273.31 305.47L273.62 305.85L273.94 306.24L274.26 306.62L274.58 306.99L274.9 307.37L275.23 307.74L275.56 308.12L275.89 308.49L276.23 308.85L276.56 309.22L276.9 309.58L277.25 309.94L277.59 310.3L277.94 310.66L278.29 311.01L278.64 311.36L278.99 311.71L279.35 312.06L279.71 312.4L280.07 312.74L280.43 313.08L280.8 313.42L281.17 313.76L281.54 314.09L281.91 314.42L282.28 314.75L282.66 315.07L283.04 315.39L283.42 315.71L283.8 316.03L284.19 316.35L284.58 316.66L284.97 316.97L285.36 317.27L285.75 317.58L286.15 317.88L286.55 318.18L286.95 318.48L287.35 318.77L287.75 319.06L288.16 319.35L288.57 319.64L288.98 319.92L289.39 320.2L289.8 320.48L290.22 320.75L290.64 321.02L291.06 321.29L291.48 321.56L291.9 321.82L292.33 322.08L292.75 322.34L293.18 322.59L293.61 322.85L294.04 323.1L294.48 323.34L294.91 323.59L295.35 323.83L295.79 324.06L296.23 324.3L296.67 324.53L297.11 324.76L297.56 324.98L298 325.2L298.45 325.42L298.9 325.64L299.35 325.85L299.81 326.06L300.26 326.27L300.71 326.48L301.17 326.68L301.63 326.87L302.09 327.07L302.55 327.26L303.01 327.45L303.48 327.64L303.94 327.82L304.41 328L304.87 328.17L305.34 328.35L305.81 328.52L306.28 328.68L306.75 328.85L307.23 329.01L307.7 329.16L308.18 329.32L308.65 329.47L309.13 329.61L309.61 329.76L310.09 329.9L310.57 330.04L311.05 330.17L311.53 330.3L312.01 330.43L312.5 330.55L312.98 330.67L313.47 330.79L313.95 330.91L314.44 331.02L314.93 331.13L315.42 331.23L315.91 331.33L316.4 331.43L316.89 331.52L317.38 331.61L317.87 331.7L318.36 331.79L318.85 331.87L319.35 331.95L319.84 332.02L320.34 332.09L320.83 332.16L321.33 332.22L321.82 332.28L322.32 332.34L322.82 332.4L323.31 332.45L323.81 332.49L324.31 332.54L324.81 332.58L325.31 332.62L325.81 332.65L326.3 332.68L326.8 332.71L327.3 332.73L327.8 332.75L328.3 332.77L328.8 332.78L329.3 332.79L329.8 332.8L330.3 332.8L330.8 332.8L331.3 332.8L331.8 332.79L332.3 332.78L332.8 332.76L333.3 332.74L333.8 332.72L334.3 332.69L334.8 332.67L335.29 332.63L335.79 332.6L336.29 332.56L336.79 332.51L337.29 332.46L326.18 347.9Z"/>
<g fill="#22364a" font-size="15"><text transform="translate(264.6 201.33) rotate(-46.34)">8</text><text transform="translate(270.63 194.7) rotate(-38.47)">小</text><text transform="translate(282.33 185.41) rotate(-28.63)">时</text><text transform="translate(295.44 178.24) rotate(-18.79)">外</text><text font-weight="900" transform="translate(309.58 173.43) rotate(-8.96)">无</text><text font-weight="900" transform="translate(324.33 171.1) rotate(0.88)">忧</text><text font-weight="900" transform="translate(339.27 171.32) rotate(10.72)">派</text></g>
<g fill="#22364a" font-size="15"><text transform="translate(457.35 180.25) rotate(-22.19)">线</text><text transform="translate(471.65 174.45) rotate(-12)">上</text><text transform="translate(486.76 171.28) rotate(-1.82)">服</text><text transform="translate(502.19 170.83) rotate(8.37)">务</text><text font-weight="900" transform="translate(517.45 173.12) rotate(18.56)">便</text><text font-weight="900" transform="translate(532.07 178.07) rotate(28.75)">捷</text><text font-weight="900" transform="translate(545.59 185.52) rotate(38.93)">派</text></g>
<g fill="#22364a" font-size="15"><text transform="translate(518.3 349.87) rotate(-17.54)">一</text><text transform="translate(533.98 343.88) rotate(-27.78)">老</text><text transform="translate(548.21 335.27) rotate(-38.02)">一</text><text transform="translate(560.58 324.38) rotate(-48.26)">幼</text><text font-weight="900" transform="translate(570.73 311.57) rotate(-58.5)">温</text><text font-weight="900" transform="translate(578.38 297.3) rotate(-68.74)">暖</text><text font-weight="900" transform="translate(583.32 282.04) rotate(-78.98)">派</text></g>
<g fill="#22364a" font-size="15"><text transform="translate(362.4 348.75) rotate(-23.84)">应</text><text transform="translate(376.76 341.68) rotate(-21.08)">急</text><text transform="translate(390.98 336.22) rotate(-10.64)">服</text><text transform="translate(405.97 333.43) rotate(-0.2)">务</text><text font-weight="900" transform="translate(421.2 333.4) rotate(10.25)">坚</text><text font-weight="900" transform="translate(436.2 336.13) rotate(20.69)">守</text><text font-weight="900" transform="translate(450.43 341.77) rotate(24.48)">派</text></g>
<g fill="#22364a" font-size="15"><text transform="translate(237.41 268.72) rotate(78.84)">社</text><text transform="translate(240.6 285.39) rotate(68.48)">区</text><text transform="translate(246.75 301.27) rotate(58.11)">文</text><text transform="translate(255.69 315.82) rotate(47.75)">化</text><text font-weight="900" transform="translate(267.14 328.56) rotate(37.39)">金</text><text font-weight="900" transform="translate(280.74 339.06) rotate(27.02)">彩</text><text font-weight="900" transform="translate(296.05 346.96) rotate(16.66)">派</text></g>
<g fill="#333" font-size="6.9" font-weight="500"><text transform="translate(276.58 223.9) rotate(-55.93)">8</text><text transform="translate(278.64 220.73) rotate(-51.19)">小</text><text transform="translate(282.84 215.5) rotate(-45.17)">时</text><text transform="translate(287.56 210.73) rotate(-39.15)">工</text><text transform="translate(292.76 206.49) rotate(-33.13)">作</text><text transform="translate(298.38 202.81) rotate(-27.11)">时</text><text transform="translate(304.34 199.74) rotate(-21.08)">间</text><text transform="translate(310.6 197.32) rotate(-15.06)">外</text><text transform="translate(317.08 195.57) rotate(-9.04)">无</text><text transform="translate(323.7 194.5) rotate(-3.02)">忧</text><text transform="translate(330.4 194.14) rotate(3.01)">服</text><text transform="translate(337.11 194.48) rotate(9.03)">务</text></g>
<g fill="#333" font-size="6.9" font-weight="500"><text transform="translate(488.57 193.86) rotate(-5.78)">3</text><text transform="translate(492.59 193.46) rotate(-2.18)">6</text><text transform="translate(496.63 193.31) rotate(1.43)">5</text><text transform="translate(500.72 193.35) rotate(6.38)">在</text><text transform="translate(507.76 194.15) rotate(12.7)">线</text><text transform="translate(514.62 195.77) rotate(17.66)">2</text><text transform="translate(518.47 196.99) rotate(21.26)">4</text><text transform="translate(522.3 198.42) rotate(26.22)">小</text><text transform="translate(528.66 201.57) rotate(32.53)">时</text><text transform="translate(534.63 205.39) rotate(38.85)">服</text><text transform="translate(540.15 209.85) rotate(45.17)">务</text></g>
<g fill="#333" font-size="6.9" font-weight="500"><text transform="translate(508.92 322.78) rotate(-11.91)">&quot;</text><text transform="translate(512.58 322.07) rotate(-16.57)">一</text><text transform="translate(519.38 320.03) rotate(-22.71)">老</text><text transform="translate(525.93 317.28) rotate(-28.83)">一</text><text transform="translate(532.14 313.85) rotate(-34.97)">幼</text><text transform="translate(537.87 309.75) rotate(-39.63)">&quot;</text><text transform="translate(540.78 307.42) rotate(-44.29)">专</text><text transform="translate(545.85 302.46) rotate(-50.42)">项</text><text transform="translate(550.37 296.98) rotate(-56.55)">生</text><text transform="translate(554.27 291.05) rotate(-62.69)">活</text><text transform="translate(557.52 284.74) rotate(-68.83)">服</text><text transform="translate(560.07 278.12) rotate(-74.96)">务</text></g>
<g fill="#333" font-size="6.9" font-weight="500"><text transform="translate(383.36 309.4) rotate(-14.03)">突</text><text transform="translate(390.12 307.71) rotate(-10.46)">发</text><text transform="translate(396.97 306.45) rotate(-6.88)">时</text><text transform="translate(403.88 305.62) rotate(-3.31)">间</text><text transform="translate(410.84 305.22) rotate(0.28)">应</text><text transform="translate(417.8 305.25) rotate(3.86)">急</text><text transform="translate(424.75 305.72) rotate(7.43)">处</text><text transform="translate(431.66 306.63) rotate(11.01)">理</text></g>
<g fill="#333" font-size="6.9" font-weight="500"><text transform="translate(263.47 264.27) rotate(81.72)">多</text><text transform="translate(264.59 271.71) rotate(75.32)">元</text><text transform="translate(266.53 278.98) rotate(68.91)">丰</text><text transform="translate(269.27 285.99) rotate(62.5)">富</text><text transform="translate(272.78 292.65) rotate(56.09)">的</text><text transform="translate(277.01 298.88) rotate(49.67)">社</text><text transform="translate(281.9 304.59) rotate(43.26)">区</text><text transform="translate(287.41 309.72) rotate(36.86)">活</text><text transform="translate(293.45 314.21) rotate(30.45)">动</text></g>
<rect x="298.8" y="93.8" width="232.3" height="31.3" rx="15.95" fill="#c9c9c9" filter="url(#sh)" opacity=".75"/><rect x="298.3" y="92.4" width="233.3" height="31.9" rx="15.95" fill="#fdfdfd"/><rect x="299.4" y="93.5" width="231.1" height="29.7" rx="14.85" fill="url(#pv)"/><rect x="299.4" y="93.5" width="231.1" height="29.7" rx="14.85" fill="url(#pg)"/>
<rect x="300.6" y="240.8" width="226.5" height="30.6" rx="15.6" fill="#c9c9c9" filter="url(#sh)" opacity=".75"/><rect x="300.1" y="239.4" width="227.5" height="31.2" rx="15.6" fill="#fdfdfd"/><rect x="301.2" y="240.5" width="225.3" height="29" rx="14.5" fill="url(#pv)"/><rect x="301.2" y="240.5" width="225.3" height="29" rx="14.5" fill="url(#pg)"/>
<g fill="#9d6a42" font-size="17.6" font-weight="900"><text x="334.6 352.54 370.48 388.41 406.35 424.29 442.23 460.16 478.1" y="115.9">全生命周期应用场景</text></g>
<g fill="#9d6a42" font-size="17.6" font-weight="900"><text x="336.6 354.23 371.87 389.5" y="262.6">全龄全维</text></g>
<g fill="#9d6a42" font-size="17.6" font-weight="900"><text x="418 435.63 453.27 470.9" y="262.6">生活触点</text></g>
<circle cx="158.4" cy="189" r="38" fill="#fff"/><circle cx="158.4" cy="189" r="32.4" fill="#fff" stroke="#ececec" stroke-width="4.2" filter="url(#nb2)"/><circle cx="158.4" cy="189" r="30.7" fill="url(#ng)" stroke="#dedede" stroke-width="3.3" filter="url(#nb)"/><g fill="#b9844f" font-size="6.6" font-weight="bold"><text x="145.4 152 158.6 165.2" y="177.1">始终呵护</text></g><g fill="#414141" font-size="16.8" font-weight="900"><text x="133.4 150.2 167" y="194.6">焕新派</text></g><g fill="#b9844f" font-size="6.7" font-weight="bold"><text x="138.35 145.1 151.85 158.6 165.35 172.1" y="205.45">园区品质定期</text></g><g fill="#b9844f" font-size="6.7" font-weight="bold"><text x="145.1 151.85 158.6 165.35" y="213.65">焕新维护</text></g>
<circle cx="671.6" cy="190.2" r="38" fill="#fff"/><circle cx="671.6" cy="190.2" r="32.4" fill="#fff" stroke="#ececec" stroke-width="4.2" filter="url(#nb2)"/><circle cx="671.6" cy="190.2" r="30.7" fill="url(#ng)" stroke="#dedede" stroke-width="3.3" filter="url(#nb)"/><g fill="#57504a" font-size="6.6" font-weight="bold"><text x="657 663.6 670.2 676.8" y="176.9">一见倾心</text></g><g fill="#414141" font-size="16.8" font-weight="900"><text x="645 661.8 678.6" y="194.8">倾心派</text></g><g fill="#a87a52" font-size="6.7" font-weight="bold"><text x="653.33 660.08 666.83 673.58 680.33" y="204.45">购房后管家</text></g><g fill="#a87a52" font-size="6.7" font-weight="bold"><text x="656.7 663.45 670.2 676.95" y="213.35">前期介入</text></g>
<circle cx="217.7" cy="397" r="38" fill="#fff"/><circle cx="217.7" cy="397" r="32.4" fill="#fff" stroke="#ececec" stroke-width="4.2" filter="url(#nb2)"/><circle cx="217.7" cy="397" r="30.7" fill="url(#ng)" stroke="#dedede" stroke-width="3.3" filter="url(#nb)"/><g fill="#57504a" font-size="6.6" font-weight="bold"><text x="205.4 212 218.6 225.2" y="382.3">入住无忧</text></g><g fill="#414141" font-size="16.8" font-weight="900"><text x="193.4 210.2 227" y="400.1">暖心派</text></g><g fill="#76685c" font-size="6.7" font-weight="bold"><text x="198.35 205.1 211.85 218.6 225.35 232.1" y="410.25">入住后定制化</text></g><g fill="#76685c" font-size="6.7" font-weight="bold"><text x="205.1 211.85 218.6 225.35" y="418.35">贴心服务</text></g>
<circle cx="413.7" cy="417.2" r="38" fill="#fff"/><circle cx="413.7" cy="417.2" r="32.4" fill="#fff" stroke="#ececec" stroke-width="4.2" filter="url(#nb2)"/><circle cx="413.7" cy="417.2" r="30.7" fill="url(#ng)" stroke="#dedede" stroke-width="3.3" filter="url(#nb)"/><g fill="#b9844f" font-size="6.6" font-weight="bold"><text x="401.1 407.7 414.3 420.9" y="404.6">暖心还居</text></g><g fill="#414141" font-size="16.8" font-weight="900"><text x="389.1 405.9 422.7" y="422.4">安心派</text></g><g fill="#b9844f" font-size="6.7" font-weight="bold"><text x="394.05 400.8 407.55 414.3 421.05 427.8" y="433.05">交付时一对一</text></g>
<circle cx="622.8" cy="395.5" r="38" fill="#fff"/><circle cx="622.8" cy="395.5" r="32.4" fill="#fff" stroke="#ececec" stroke-width="4.2" filter="url(#nb2)"/><circle cx="622.8" cy="395.5" r="30.7" fill="url(#ng)" stroke="#dedede" stroke-width="3.3" filter="url(#nb)"/><g fill="#b9844f" font-size="6.6" font-weight="bold"><text x="611.4 618 624.6 631.2" y="382">颜选兑现</text></g><g fill="#414141" font-size="16.8" font-weight="900"><text x="599.4 616.2 633" y="400.1">兑现派</text></g><g fill="#b9844f" font-size="6.7" font-weight="bold"><text x="607.72 614.47 621.22 627.97 634.72" y="411.25">交付前定期</text></g><g fill="#b9844f" font-size="6.7" font-weight="bold"><text x="611.1 617.85 624.6 631.35" y="419.25">发送家书</text></g>
<g fill="url(#tg)" font-size="17.6" font-weight="bold"><text transform="translate(22.6 25.5) skewX(-14) scale(1.1193 1)" x="0 17.92 35.84 53.76 71.68 89.6" y="0">金派服务体系</text></g>
<g fill="#828282" font-size="7.5"><text x="24.1 32.2 34.89 42.39 50.98 54.17 61.67 69.17 76.67 84.17 91.67 99.17 106.67" y="66.2">金:金辉,品牌名单字更直接</text></g>
<g fill="#828282" font-size="7.5"><text x="24.1 32.2 34.89 42.53 46.24 51.3 55 62.5 70 78.6 81.78 89.28 96.78 101.69 109.19 116.69 124.19" y="83.2">派:为&quot;π&quot;的谐音,代表π服务体系</text></g>
<g fill="#828282" font-size="7.5"><text x="24.1 31.6 39.7 42.53 46.24 53.74 61.24 65.4 72.9 80.55" y="100.4">组合:&quot;金派=金牌&quot;</text></g>
<g fill="#828282" font-size="7.5"><text x="24.1 31.6 39.1 46.6 54.1 61.6 69.1 76.6 84.1 91.6 99.1" y="117.4">一个派就是一种生活态度</text></g>
<g fill="#828282" font-size="7.5"><text x="24.1 31.6 39.1 46.6 54.1 61.6 69.1 76.6 84.1 91.6 99.1 106.6 114.1 121.6" y="133.6">十个派就是十全十美的生活体验</text></g>
</svg>
<p class="en">GOLD SERVICE  SYSTEM</p>
<div class="sr">
<h1>金派服务体系</h1>
<p>金：金辉，品牌名单字更直接</p><p>派：为“π”的谐音，代表π服务体系</p><p>组合：“金派=金牌”</p><p>一个派就是一种生活态度</p><p>十个派就是十全十美的生活体验</p>
<h2>全生命周期应用场景</h2>
<ul><li>始终呵护 焕新派 园区品质定期焕新维护</li><li>一见倾心 倾心派 购房后管家前期介入</li><li>颜选兑现 兑现派 交付前定期发送家书</li><li>暖心还居 安心派 交付时一对一</li><li>入住无忧 暖心派 入住后定制化贴心服务</li></ul>
<h2>全龄全维 生活触点</h2>
<ul><li>8小时外无忧派 8小时工作时间外无忧服务</li><li>线上服务便捷派 365在线24小时服务</li><li>一老一幼温暖派 “一老一幼”专项生活服务</li><li>应急服务坚守派 突发时间应急处理</li><li>社区文化金彩派 多元丰富的社区活动</li></ul>
</div>
</body></html>
